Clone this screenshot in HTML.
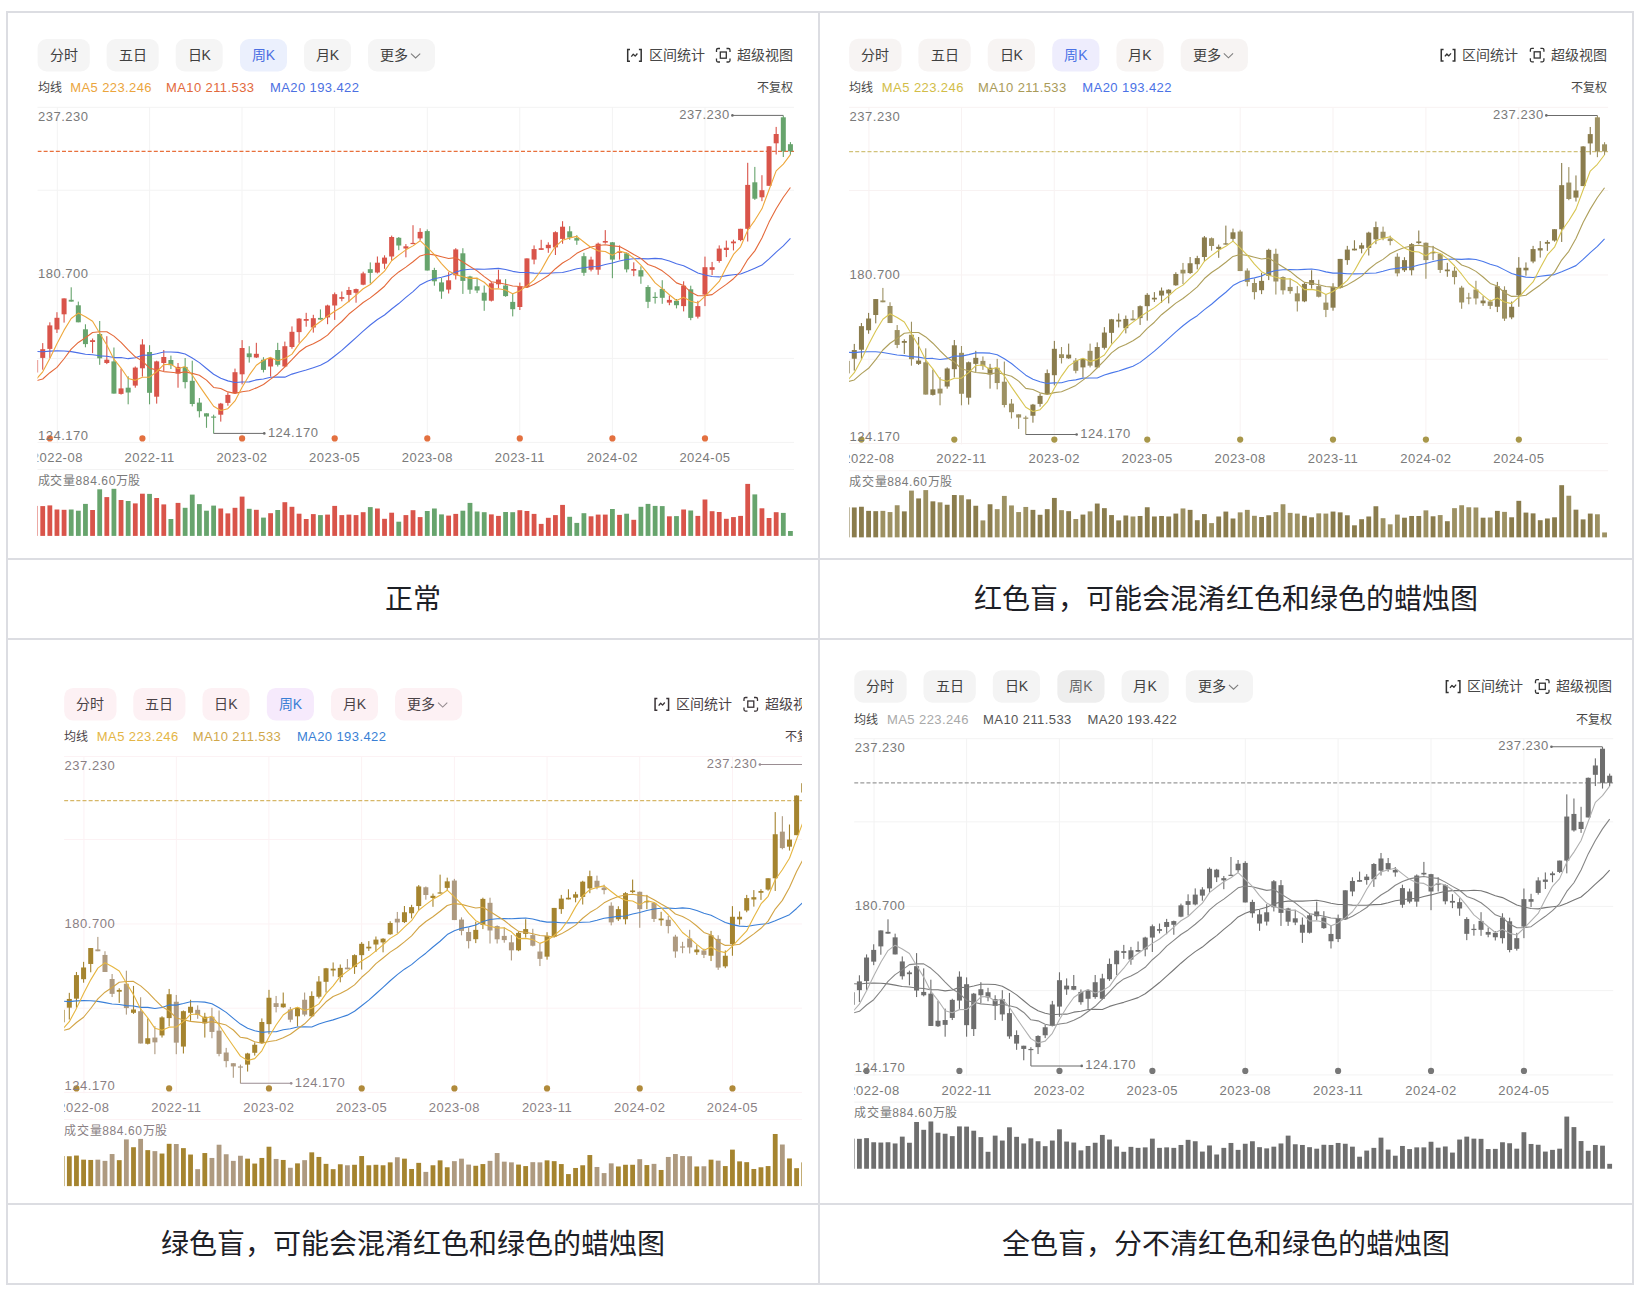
<!DOCTYPE html>
<html lang="zh-CN"><head><meta charset="utf-8"><style>
html,body{margin:0;padding:0;background:#fff;}
body{width:1640px;height:1300px;overflow:hidden;position:relative;font-family:"Liberation Sans",sans-serif;}
svg{position:absolute;left:0;top:0;}
text{font-family:"Liberation Sans",sans-serif;}
.bt{font-size:14px;}
.sm{font-size:12px;}
.ma{font-size:13px;letter-spacing:0.4px;}
.ax{font-size:13px;letter-spacing:0.5px;}
.vl{font-size:12px;letter-spacing:0.6px;}
.cap{font-size:28px;fill:#1d2026;}
</style></head><body>
<svg width="1640" height="1300" viewBox="0 0 1640 1300">
<rect x="7" y="12" width="1626" height="1272" fill="none" stroke="#dcdde2" stroke-width="2"/>
<rect x="818" y="12" width="2" height="1272" fill="#dcdde2"/>
<rect x="7" y="558" width="1626" height="2" fill="#dcdde2"/>
<rect x="7" y="638" width="1626" height="2" fill="#dcdde2"/>
<rect x="7" y="1203" width="1626" height="2" fill="#dcdde2"/>
<clipPath id="cell1"><rect x="8" y="13" width="810" height="545"/></clipPath>
<clipPath id="cell2"><rect x="820" y="13" width="812" height="545"/></clipPath>
<clipPath id="cell3"><rect x="8" y="640" width="794" height="563"/></clipPath>
<clipPath id="cell4"><rect x="820" y="640" width="812" height="563"/></clipPath>
<g clip-path="url(#cell1)"><rect x="37.6" y="39" width="52.2" height="32.5" rx="9" fill="#f5f5f5"/>
<text x="63.7" y="60.2" class="bt" text-anchor="middle" fill="#404040">分时</text>
<rect x="106.6" y="39" width="52.1" height="32.5" rx="9" fill="#f5f5f5"/>
<text x="132.7" y="60.2" class="bt" text-anchor="middle" fill="#404040">五日</text>
<rect x="175.7" y="39" width="47.0" height="32.5" rx="9" fill="#f5f5f5"/>
<text x="199.2" y="60.2" class="bt" text-anchor="middle" fill="#404040">日K</text>
<rect x="240.0" y="39" width="47.0" height="32.5" rx="9" fill="#ebf0fd"/>
<text x="263.5" y="60.2" class="bt" text-anchor="middle" fill="#4b6fe2">周K</text>
<rect x="304.0" y="39" width="47.0" height="32.5" rx="9" fill="#f5f5f5"/>
<text x="327.5" y="60.2" class="bt" text-anchor="middle" fill="#404040">月K</text>
<rect x="368.0" y="39" width="67.0" height="32.5" rx="9" fill="#f5f5f5"/>
<text x="380.0" y="60.2" class="bt" fill="#404040">更多</text>
<path d="M411.0,53.6 l4.6,4.4 l4.6,-4.4" fill="none" stroke="#7c7c7c" stroke-width="1.05"/>
<path d="M630,49.6 h-2.3 v11.6 h2.3 M638.9,49.6 h2.3 v11.6 h-2.3" fill="none" stroke="#333" stroke-width="1.5"/>
<path d="M631.3,56.6 l2,-2.4 l1.9,1.9 l2.2,-2.6" fill="none" stroke="#333" stroke-width="1.3" stroke-linejoin="round"/>
<text x="704.5" y="60.2" class="bt" text-anchor="end" fill="#474747">区间统计</text>
<path d="M716.5,52 v-2 q0,-1.5 1.5,-1.5 h2 M726.5,48.5 h2 q1.5,0 1.5,1.5 v2 M730,58.5 v2 q0,1.5 -1.5,1.5 h-2 M720,62 h-2 q-1.5,0 -1.5,-1.5 v-2" fill="none" stroke="#333" stroke-width="1.3"/>
<rect x="720.3" y="52" width="6" height="6.2" fill="none" stroke="#333" stroke-width="1.3"/>
<text x="793" y="60.2" class="bt" text-anchor="end" fill="#474747">超级视图</text>
<text x="37.6" y="92.3" class="sm" fill="#474747">均线</text>
<text x="70.2" y="92.3" class="ma" fill="#eba53c">MA5 223.246</text>
<text x="166" y="92.3" class="ma" fill="#e2693b">MA10 211.533</text>
<text x="270" y="92.3" class="ma" fill="#4b6fe2">MA20 193.422</text>
<text x="793" y="92.3" class="sm" text-anchor="end" fill="#474747">不复权</text>
<rect x="37.5" y="106.8" width="756.5" height="1" fill="#f3f3f3"/>
<rect x="37.5" y="189.7" width="756.5" height="1" fill="#f3f3f3"/>
<rect x="37.5" y="273.9" width="756.5" height="1" fill="#f3f3f3"/>
<rect x="37.5" y="357.9" width="756.5" height="1" fill="#f3f3f3"/>
<rect x="37.5" y="441.9" width="756.5" height="1" fill="#f3f3f3"/>
<rect x="37.5" y="469.0" width="756.5" height="1" fill="#f3f3f3"/>
<rect x="56.8" y="107.3" width="1" height="336" fill="#f3f3f3"/>
<rect x="149.1" y="107.3" width="1" height="336" fill="#f3f3f3"/>
<rect x="241.5" y="107.3" width="1" height="336" fill="#f3f3f3"/>
<rect x="334.1" y="107.3" width="1" height="336" fill="#f3f3f3"/>
<rect x="426.8" y="107.3" width="1" height="336" fill="#f3f3f3"/>
<rect x="519.3" y="107.3" width="1" height="336" fill="#f3f3f3"/>
<rect x="611.9" y="107.3" width="1" height="336" fill="#f3f3f3"/>
<rect x="704.5" y="107.3" width="1" height="336" fill="#f3f3f3"/>
<text x="38" y="120.6" class="ax" fill="#7a7a7a">237.230</text>
<text x="38" y="278" class="ax" fill="#7a7a7a">180.700</text>
<clipPath id="cpa"><rect x="37.5" y="100" width="756.5" height="440"/></clipPath>
<g clip-path="url(#cpa)">
<circle cx="49.8" cy="438.4" r="3.1" fill="#e3703f"/>
<circle cx="142.4" cy="438.4" r="3.1" fill="#e3703f"/>
<circle cx="242.1" cy="438.4" r="3.1" fill="#e3703f"/>
<circle cx="334.7" cy="438.4" r="3.1" fill="#e3703f"/>
<circle cx="427.3" cy="438.4" r="3.1" fill="#e3703f"/>
<circle cx="519.8" cy="438.4" r="3.1" fill="#e3703f"/>
<circle cx="612.4" cy="438.4" r="3.1" fill="#e3703f"/>
<circle cx="705.0" cy="438.4" r="3.1" fill="#e3703f"/>
<text x="38" y="439.6" class="ax" fill="#7a7a7a">124.170</text>
<line x1="37.5" y1="151.4" x2="794" y2="151.4" stroke="#e8703c" stroke-width="1.2" stroke-dasharray="4,2.12"/>
<text x="57.3" y="462" class="ax" text-anchor="middle" fill="#7a7a7a">2022-08</text>
<text x="149.6" y="462" class="ax" text-anchor="middle" fill="#7a7a7a">2022-11</text>
<text x="242.0" y="462" class="ax" text-anchor="middle" fill="#7a7a7a">2023-02</text>
<text x="334.6" y="462" class="ax" text-anchor="middle" fill="#7a7a7a">2023-05</text>
<text x="427.3" y="462" class="ax" text-anchor="middle" fill="#7a7a7a">2023-08</text>
<text x="519.8" y="462" class="ax" text-anchor="middle" fill="#7a7a7a">2023-11</text>
<text x="612.4" y="462" class="ax" text-anchor="middle" fill="#7a7a7a">2024-02</text>
<text x="705.0" y="462" class="ax" text-anchor="middle" fill="#7a7a7a">2024-05</text>
<rect x="35.05" y="358.00" width="1.1" height="16.00" fill="#d9544a"/>
<rect x="33.10" y="360.00" width="5" height="12.50" fill="#d9544a"/>
<rect x="42.17" y="343.10" width="1.1" height="26.60" fill="#d9544a"/>
<rect x="40.22" y="349.20" width="5" height="8.70" fill="#d9544a"/>
<rect x="49.29" y="322.30" width="1.1" height="35.60" fill="#d9544a"/>
<rect x="47.34" y="325.40" width="5" height="23.50" fill="#d9544a"/>
<rect x="56.41" y="312.20" width="1.1" height="20.80" fill="#d9544a"/>
<rect x="54.46" y="317.80" width="5" height="11.70" fill="#d9544a"/>
<rect x="63.53" y="298.40" width="1.1" height="24.20" fill="#d9544a"/>
<rect x="61.58" y="298.40" width="5" height="15.90" fill="#d9544a"/>
<rect x="70.66" y="287.30" width="1.1" height="14.30" fill="#67a46d"/>
<rect x="68.71" y="299.80" width="5" height="1.80" fill="#67a46d"/>
<rect x="77.78" y="301.60" width="1.1" height="20.70" fill="#67a46d"/>
<rect x="75.83" y="305.30" width="5" height="17.00" fill="#67a46d"/>
<rect x="84.90" y="324.30" width="1.1" height="23.00" fill="#67a46d"/>
<rect x="82.95" y="329.30" width="5" height="14.80" fill="#67a46d"/>
<rect x="92.02" y="338.50" width="1.1" height="14.60" fill="#d9544a"/>
<rect x="90.07" y="340.20" width="5" height="1.80" fill="#d9544a"/>
<rect x="99.14" y="321.00" width="1.1" height="43.80" fill="#67a46d"/>
<rect x="97.19" y="334.00" width="5" height="24.30" fill="#67a46d"/>
<rect x="106.26" y="336.20" width="1.1" height="27.90" fill="#d9544a"/>
<rect x="104.31" y="359.70" width="5" height="3.30" fill="#d9544a"/>
<rect x="113.38" y="347.50" width="1.1" height="46.10" fill="#67a46d"/>
<rect x="111.43" y="361.40" width="5" height="32.20" fill="#67a46d"/>
<rect x="120.50" y="368.60" width="1.1" height="26.00" fill="#d9544a"/>
<rect x="118.55" y="388.40" width="5" height="5.50" fill="#d9544a"/>
<rect x="127.62" y="376.30" width="1.1" height="28.00" fill="#67a46d"/>
<rect x="125.67" y="387.70" width="5" height="4.80" fill="#67a46d"/>
<rect x="134.74" y="366.50" width="1.1" height="21.20" fill="#d9544a"/>
<rect x="132.79" y="367.60" width="5" height="18.00" fill="#d9544a"/>
<rect x="141.87" y="339.20" width="1.1" height="37.40" fill="#d9544a"/>
<rect x="139.92" y="344.50" width="5" height="23.80" fill="#d9544a"/>
<rect x="148.99" y="345.20" width="1.1" height="59.10" fill="#67a46d"/>
<rect x="147.04" y="352.00" width="5" height="40.80" fill="#67a46d"/>
<rect x="156.11" y="360.70" width="1.1" height="42.90" fill="#d9544a"/>
<rect x="154.16" y="361.40" width="5" height="35.30" fill="#d9544a"/>
<rect x="163.23" y="350.00" width="1.1" height="21.00" fill="#d9544a"/>
<rect x="161.28" y="357.00" width="5" height="6.00" fill="#d9544a"/>
<rect x="170.35" y="355.60" width="1.1" height="13.40" fill="#67a46d"/>
<rect x="168.40" y="360.00" width="5" height="5.20" fill="#67a46d"/>
<rect x="177.47" y="363.00" width="1.1" height="24.70" fill="#d9544a"/>
<rect x="175.52" y="366.90" width="5" height="6.70" fill="#d9544a"/>
<rect x="184.59" y="358.00" width="1.1" height="30.40" fill="#67a46d"/>
<rect x="182.64" y="366.90" width="5" height="15.20" fill="#67a46d"/>
<rect x="191.71" y="360.70" width="1.1" height="45.70" fill="#67a46d"/>
<rect x="189.76" y="380.80" width="5" height="23.20" fill="#67a46d"/>
<rect x="198.83" y="398.00" width="1.1" height="19.40" fill="#67a46d"/>
<rect x="196.88" y="402.60" width="5" height="8.60" fill="#67a46d"/>
<rect x="205.95" y="413.30" width="1.1" height="14.50" fill="#67a46d"/>
<rect x="204.00" y="413.30" width="5" height="3.20" fill="#67a46d"/>
<rect x="213.07" y="414.70" width="1.1" height="18.70" fill="#67a46d"/>
<rect x="211.12" y="416.50" width="5" height="1.20" fill="#67a46d"/>
<rect x="220.20" y="402.90" width="1.1" height="18.70" fill="#d9544a"/>
<rect x="218.25" y="403.60" width="5" height="11.10" fill="#d9544a"/>
<rect x="227.32" y="392.50" width="1.1" height="13.20" fill="#d9544a"/>
<rect x="225.37" y="394.90" width="5" height="8.00" fill="#d9544a"/>
<rect x="234.44" y="368.60" width="1.1" height="25.30" fill="#d9544a"/>
<rect x="232.49" y="372.20" width="5" height="21.00" fill="#d9544a"/>
<rect x="241.56" y="340.10" width="1.1" height="44.30" fill="#d9544a"/>
<rect x="239.61" y="348.00" width="5" height="26.30" fill="#d9544a"/>
<rect x="248.68" y="346.20" width="1.1" height="16.40" fill="#67a46d"/>
<rect x="246.73" y="353.40" width="5" height="3.80" fill="#67a46d"/>
<rect x="255.80" y="342.80" width="1.1" height="15.20" fill="#d9544a"/>
<rect x="253.85" y="353.80" width="5" height="3.70" fill="#d9544a"/>
<rect x="262.92" y="357.20" width="1.1" height="15.20" fill="#67a46d"/>
<rect x="260.97" y="359.70" width="5" height="10.20" fill="#67a46d"/>
<rect x="270.04" y="357.20" width="1.1" height="19.40" fill="#d9544a"/>
<rect x="268.09" y="358.00" width="5" height="8.50" fill="#d9544a"/>
<rect x="277.16" y="342.80" width="1.1" height="23.70" fill="#67a46d"/>
<rect x="275.21" y="350.00" width="5" height="14.80" fill="#67a46d"/>
<rect x="284.29" y="341.60" width="1.1" height="25.70" fill="#d9544a"/>
<rect x="282.34" y="346.20" width="5" height="20.30" fill="#d9544a"/>
<rect x="291.41" y="326.40" width="1.1" height="22.30" fill="#d9544a"/>
<rect x="289.46" y="331.80" width="5" height="15.20" fill="#d9544a"/>
<rect x="298.53" y="318.20" width="1.1" height="24.60" fill="#d9544a"/>
<rect x="296.58" y="318.60" width="5" height="13.50" fill="#d9544a"/>
<rect x="305.65" y="312.80" width="1.1" height="13.90" fill="#d9544a"/>
<rect x="303.70" y="319.00" width="5" height="1.80" fill="#d9544a"/>
<rect x="312.77" y="314.80" width="1.1" height="17.80" fill="#d9544a"/>
<rect x="310.82" y="318.20" width="5" height="9.30" fill="#d9544a"/>
<rect x="319.89" y="309.40" width="1.1" height="10.20" fill="#67a46d"/>
<rect x="317.94" y="317.90" width="5" height="1.70" fill="#67a46d"/>
<rect x="327.01" y="304.70" width="1.1" height="19.50" fill="#d9544a"/>
<rect x="325.06" y="305.50" width="5" height="11.90" fill="#d9544a"/>
<rect x="334.13" y="292.50" width="1.1" height="27.40" fill="#d9544a"/>
<rect x="332.18" y="294.20" width="5" height="11.30" fill="#d9544a"/>
<rect x="341.25" y="291.50" width="1.1" height="9.80" fill="#d9544a"/>
<rect x="339.30" y="297.10" width="5" height="1.70" fill="#d9544a"/>
<rect x="348.37" y="286.90" width="1.1" height="15.30" fill="#d9544a"/>
<rect x="346.42" y="290.00" width="5" height="4.90" fill="#d9544a"/>
<rect x="355.50" y="288.60" width="1.1" height="14.10" fill="#d9544a"/>
<rect x="353.55" y="289.10" width="5" height="3.70" fill="#d9544a"/>
<rect x="362.62" y="271.70" width="1.1" height="13.50" fill="#d9544a"/>
<rect x="360.67" y="273.40" width="5" height="11.30" fill="#d9544a"/>
<rect x="369.74" y="262.40" width="1.1" height="21.10" fill="#67a46d"/>
<rect x="367.79" y="269.20" width="5" height="3.70" fill="#67a46d"/>
<rect x="376.86" y="256.50" width="1.1" height="16.90" fill="#d9544a"/>
<rect x="374.91" y="262.70" width="5" height="9.80" fill="#d9544a"/>
<rect x="383.98" y="255.30" width="1.1" height="13.50" fill="#d9544a"/>
<rect x="382.03" y="257.60" width="5" height="6.10" fill="#d9544a"/>
<rect x="391.10" y="235.60" width="1.1" height="25.10" fill="#d9544a"/>
<rect x="389.15" y="237.00" width="5" height="19.50" fill="#d9544a"/>
<rect x="398.22" y="237.00" width="1.1" height="13.20" fill="#67a46d"/>
<rect x="396.27" y="237.80" width="5" height="7.70" fill="#67a46d"/>
<rect x="405.34" y="244.10" width="1.1" height="13.20" fill="#d9544a"/>
<rect x="403.39" y="246.30" width="5" height="2.20" fill="#d9544a"/>
<rect x="412.46" y="225.20" width="1.1" height="18.90" fill="#d9544a"/>
<rect x="410.51" y="242.90" width="5" height="1.20" fill="#d9544a"/>
<rect x="419.58" y="228.20" width="1.1" height="12.20" fill="#d9544a"/>
<rect x="417.63" y="231.90" width="5" height="6.50" fill="#d9544a"/>
<rect x="426.71" y="229.40" width="1.1" height="41.10" fill="#67a46d"/>
<rect x="424.76" y="231.10" width="5" height="39.40" fill="#67a46d"/>
<rect x="433.83" y="267.80" width="1.1" height="17.90" fill="#67a46d"/>
<rect x="431.88" y="270.00" width="5" height="11.30" fill="#67a46d"/>
<rect x="440.95" y="278.00" width="1.1" height="20.80" fill="#67a46d"/>
<rect x="439.00" y="282.40" width="5" height="9.10" fill="#67a46d"/>
<rect x="448.07" y="272.20" width="1.1" height="21.30" fill="#d9544a"/>
<rect x="446.12" y="280.30" width="5" height="9.30" fill="#d9544a"/>
<rect x="455.19" y="248.20" width="1.1" height="31.30" fill="#d9544a"/>
<rect x="453.24" y="249.40" width="5" height="25.90" fill="#d9544a"/>
<rect x="462.31" y="248.20" width="1.1" height="45.70" fill="#67a46d"/>
<rect x="460.36" y="253.30" width="5" height="27.60" fill="#67a46d"/>
<rect x="469.43" y="275.80" width="1.1" height="18.10" fill="#67a46d"/>
<rect x="467.48" y="276.50" width="5" height="13.20" fill="#67a46d"/>
<rect x="476.55" y="277.80" width="1.1" height="15.30" fill="#67a46d"/>
<rect x="474.60" y="286.30" width="5" height="4.20" fill="#67a46d"/>
<rect x="483.67" y="285.50" width="1.1" height="25.30" fill="#67a46d"/>
<rect x="481.72" y="292.70" width="5" height="8.00" fill="#67a46d"/>
<rect x="490.79" y="282.10" width="1.1" height="19.40" fill="#d9544a"/>
<rect x="488.84" y="283.30" width="5" height="17.40" fill="#d9544a"/>
<rect x="497.92" y="269.70" width="1.1" height="18.30" fill="#d9544a"/>
<rect x="495.97" y="279.50" width="5" height="4.80" fill="#d9544a"/>
<rect x="505.04" y="279.20" width="1.1" height="17.60" fill="#67a46d"/>
<rect x="503.09" y="285.50" width="5" height="10.60" fill="#67a46d"/>
<rect x="512.16" y="293.90" width="1.1" height="22.50" fill="#67a46d"/>
<rect x="510.21" y="301.90" width="5" height="7.30" fill="#67a46d"/>
<rect x="519.28" y="282.60" width="1.1" height="27.40" fill="#d9544a"/>
<rect x="517.33" y="286.30" width="5" height="20.70" fill="#d9544a"/>
<rect x="526.40" y="258.40" width="1.1" height="29.30" fill="#d9544a"/>
<rect x="524.45" y="258.40" width="5" height="28.80" fill="#d9544a"/>
<rect x="533.52" y="245.40" width="1.1" height="18.90" fill="#d9544a"/>
<rect x="531.57" y="249.10" width="5" height="10.50" fill="#d9544a"/>
<rect x="540.64" y="239.80" width="1.1" height="10.10" fill="#d9544a"/>
<rect x="538.69" y="248.20" width="5" height="1.70" fill="#d9544a"/>
<rect x="547.76" y="242.30" width="1.1" height="10.50" fill="#d9544a"/>
<rect x="545.81" y="244.80" width="5" height="3.40" fill="#d9544a"/>
<rect x="554.88" y="231.30" width="1.1" height="23.70" fill="#d9544a"/>
<rect x="552.93" y="232.20" width="5" height="15.20" fill="#d9544a"/>
<rect x="562.00" y="221.20" width="1.1" height="22.50" fill="#d9544a"/>
<rect x="560.05" y="226.70" width="5" height="12.20" fill="#d9544a"/>
<rect x="569.13" y="226.20" width="1.1" height="13.60" fill="#67a46d"/>
<rect x="567.18" y="231.30" width="5" height="6.30" fill="#67a46d"/>
<rect x="576.25" y="235.20" width="1.1" height="9.60" fill="#67a46d"/>
<rect x="574.30" y="238.10" width="5" height="2.50" fill="#67a46d"/>
<rect x="583.37" y="252.80" width="1.1" height="23.00" fill="#67a46d"/>
<rect x="581.42" y="256.20" width="5" height="16.60" fill="#67a46d"/>
<rect x="590.49" y="256.70" width="1.1" height="14.70" fill="#d9544a"/>
<rect x="588.54" y="259.60" width="5" height="10.10" fill="#d9544a"/>
<rect x="597.61" y="242.60" width="1.1" height="32.20" fill="#d9544a"/>
<rect x="595.66" y="243.70" width="5" height="26.00" fill="#d9544a"/>
<rect x="604.73" y="230.10" width="1.1" height="13.60" fill="#d9544a"/>
<rect x="602.78" y="241.00" width="5" height="1.60" fill="#d9544a"/>
<rect x="611.85" y="242.00" width="1.1" height="36.20" fill="#67a46d"/>
<rect x="609.90" y="242.30" width="5" height="17.30" fill="#67a46d"/>
<rect x="618.97" y="245.40" width="1.1" height="14.20" fill="#d9544a"/>
<rect x="617.02" y="251.60" width="5" height="1.20" fill="#d9544a"/>
<rect x="626.09" y="252.50" width="1.1" height="19.90" fill="#67a46d"/>
<rect x="624.14" y="253.30" width="5" height="16.10" fill="#67a46d"/>
<rect x="633.21" y="262.30" width="1.1" height="13.90" fill="#d9544a"/>
<rect x="631.26" y="269.00" width="5" height="1.70" fill="#d9544a"/>
<rect x="640.34" y="266.30" width="1.1" height="17.50" fill="#67a46d"/>
<rect x="638.39" y="270.20" width="5" height="6.30" fill="#67a46d"/>
<rect x="647.46" y="285.20" width="1.1" height="22.90" fill="#67a46d"/>
<rect x="645.51" y="287.00" width="5" height="14.80" fill="#67a46d"/>
<rect x="654.58" y="292.20" width="1.1" height="11.40" fill="#67a46d"/>
<rect x="652.63" y="296.80" width="5" height="1.20" fill="#67a46d"/>
<rect x="661.70" y="280.20" width="1.1" height="23.60" fill="#67a46d"/>
<rect x="659.75" y="288.90" width="5" height="8.90" fill="#67a46d"/>
<rect x="668.82" y="295.50" width="1.1" height="9.70" fill="#d9544a"/>
<rect x="666.87" y="299.90" width="5" height="2.70" fill="#d9544a"/>
<rect x="675.94" y="299.00" width="1.1" height="9.40" fill="#67a46d"/>
<rect x="673.99" y="300.80" width="5" height="4.40" fill="#67a46d"/>
<rect x="683.06" y="281.30" width="1.1" height="30.10" fill="#d9544a"/>
<rect x="681.11" y="285.70" width="5" height="20.40" fill="#d9544a"/>
<rect x="690.18" y="285.70" width="1.1" height="34.50" fill="#67a46d"/>
<rect x="688.23" y="289.30" width="5" height="28.60" fill="#67a46d"/>
<rect x="697.30" y="300.80" width="1.1" height="17.70" fill="#d9544a"/>
<rect x="695.35" y="306.10" width="5" height="10.60" fill="#d9544a"/>
<rect x="704.42" y="256.60" width="1.1" height="49.50" fill="#d9544a"/>
<rect x="702.47" y="267.20" width="5" height="27.40" fill="#d9544a"/>
<rect x="711.55" y="261.90" width="1.1" height="13.20" fill="#d9544a"/>
<rect x="709.60" y="267.20" width="5" height="2.60" fill="#d9544a"/>
<rect x="718.67" y="245.40" width="1.1" height="17.30" fill="#d9544a"/>
<rect x="716.72" y="248.60" width="5" height="12.40" fill="#d9544a"/>
<rect x="725.79" y="240.60" width="1.1" height="16.50" fill="#d9544a"/>
<rect x="723.84" y="247.70" width="5" height="2.30" fill="#d9544a"/>
<rect x="732.91" y="239.70" width="1.1" height="10.70" fill="#d9544a"/>
<rect x="730.96" y="241.50" width="5" height="1.80" fill="#d9544a"/>
<rect x="740.03" y="228.80" width="1.1" height="12.40" fill="#d9544a"/>
<rect x="738.08" y="228.80" width="5" height="11.30" fill="#d9544a"/>
<rect x="747.15" y="162.80" width="1.1" height="78.70" fill="#d9544a"/>
<rect x="745.20" y="184.90" width="5" height="43.90" fill="#d9544a"/>
<rect x="754.27" y="166.90" width="1.1" height="33.00" fill="#67a46d"/>
<rect x="752.32" y="182.30" width="5" height="16.40" fill="#67a46d"/>
<rect x="761.39" y="175.20" width="1.1" height="26.00" fill="#d9544a"/>
<rect x="759.44" y="190.20" width="5" height="7.10" fill="#d9544a"/>
<rect x="768.51" y="146.00" width="1.1" height="39.80" fill="#d9544a"/>
<rect x="766.56" y="146.30" width="5" height="39.50" fill="#d9544a"/>
<rect x="775.63" y="126.90" width="1.1" height="27.60" fill="#d9544a"/>
<rect x="773.68" y="134.00" width="5" height="9.30" fill="#d9544a"/>
<rect x="782.76" y="115.50" width="1.1" height="41.50" fill="#67a46d"/>
<rect x="780.81" y="117.30" width="5" height="34.00" fill="#67a46d"/>
<rect x="789.88" y="142.10" width="1.1" height="12.70" fill="#67a46d"/>
<rect x="787.93" y="144.20" width="5" height="7.10" fill="#67a46d"/>
<polyline points="35.60,351.40 42.72,351.82 49.84,351.08 56.96,350.90 64.08,350.99 71.21,351.64 78.33,352.90 85.45,354.23 92.57,354.79 99.69,355.83 106.81,356.29 113.93,357.58 121.05,357.57 128.17,358.67 135.29,357.79 142.42,355.15 149.54,355.32 156.66,353.81 163.78,352.05 170.90,352.00 178.02,352.34 185.14,353.99 192.26,357.92 199.38,362.59 206.50,368.50 213.62,374.28 220.75,378.35 227.87,380.89 234.99,382.49 242.11,381.98 249.23,381.85 256.35,379.86 263.47,378.93 270.59,377.21 277.71,377.07 284.84,377.15 291.96,374.11 299.08,371.97 306.20,370.07 313.32,367.72 320.44,365.35 327.56,361.52 334.68,356.03 341.80,350.33 348.92,344.00 356.05,337.58 363.17,331.07 370.29,324.98 377.41,319.50 384.53,314.98 391.65,308.97 398.77,303.56 405.89,297.38 413.01,291.62 420.13,284.97 427.26,281.19 434.38,278.67 441.50,277.31 448.62,275.38 455.74,271.94 462.86,270.00 469.98,269.21 477.10,269.02 484.22,269.20 491.34,268.87 498.47,268.39 505.59,269.52 512.71,271.34 519.83,272.52 526.95,272.56 534.07,273.17 541.19,273.30 548.31,273.23 555.43,272.69 562.55,272.43 569.68,270.78 576.80,268.75 583.92,267.82 591.04,266.78 598.16,266.50 605.28,264.50 612.40,263.00 619.52,261.05 626.64,259.49 633.76,258.77 640.89,258.62 648.01,258.90 655.13,258.34 662.25,258.91 669.37,260.99 676.49,263.79 683.61,265.67 690.73,269.32 697.85,273.01 704.97,275.04 712.10,276.52 719.22,276.92 726.34,275.66 733.46,274.76 740.58,274.01 747.70,271.21 754.82,268.16 761.94,265.09 769.06,258.94 776.18,252.19 783.31,245.93 790.43,238.41" fill="none" stroke="#4b6fe8" stroke-width="1.1" stroke-linejoin="round"/>
<polyline points="35.60,380.88 42.72,379.02 49.84,372.70 56.96,367.43 64.08,358.74 71.21,349.18 78.33,342.47 85.45,337.73 92.57,332.52 99.69,331.73 106.81,331.70 113.93,336.14 121.05,342.44 128.17,349.91 135.29,356.83 142.42,361.12 149.54,368.17 156.66,369.90 163.78,371.58 170.90,372.27 178.02,372.99 185.14,371.84 192.26,373.40 199.38,375.27 206.50,380.16 213.62,387.45 220.75,388.53 227.87,391.88 234.99,393.40 242.11,391.68 249.23,390.71 256.35,387.88 263.47,384.47 270.59,379.15 277.71,373.98 284.84,366.86 291.96,359.68 299.08,352.05 306.20,346.73 313.32,343.75 320.44,339.99 327.56,335.16 334.68,327.59 341.80,321.50 348.92,314.02 356.05,308.31 363.17,302.47 370.29,297.90 377.41,292.27 384.53,286.21 391.65,277.95 398.77,271.95 405.89,267.16 413.01,261.74 420.13,255.93 427.26,254.07 434.38,254.86 441.50,256.72 448.62,258.48 455.74,257.66 462.86,262.05 469.98,266.47 477.10,270.89 484.22,276.67 491.34,281.81 498.47,282.71 505.59,284.19 512.71,285.96 519.83,286.56 526.95,287.46 534.07,284.28 541.19,280.13 548.31,275.56 555.43,268.71 562.55,263.05 569.68,258.86 576.80,253.31 583.92,249.67 591.04,247.00 598.16,245.53 605.28,244.72 612.40,245.86 619.52,246.54 626.64,250.26 633.76,254.49 640.89,258.38 648.01,264.50 655.13,267.00 662.25,270.82 669.37,276.44 676.49,282.86 683.61,285.47 690.73,292.10 697.85,295.77 704.97,295.59 712.10,294.66 719.22,289.34 726.34,284.33 733.46,278.70 740.58,271.59 747.70,259.56 754.82,250.86 761.94,238.09 769.06,222.11 776.18,208.79 783.31,197.20 790.43,187.47" fill="none" stroke="#e4693a" stroke-width="1.1" stroke-linejoin="round"/>
<polyline points="35.60,379.88 42.72,371.84 49.84,358.61 56.96,343.72 64.08,330.16 71.21,318.48 78.33,313.10 85.45,316.84 92.57,321.32 99.69,333.30 106.81,344.92 113.93,359.18 121.05,368.04 128.17,378.50 135.29,380.36 142.42,377.32 149.54,377.16 156.66,371.76 163.78,364.66 170.90,364.18 178.02,368.66 185.14,366.52 192.26,375.04 199.38,385.88 206.50,396.14 213.62,406.24 220.75,410.54 227.87,408.72 234.99,400.92 242.11,387.22 249.23,375.18 256.35,365.22 263.47,360.22 270.59,357.38 277.71,360.74 284.84,358.54 291.96,354.14 299.08,343.88 306.20,336.08 313.32,326.76 320.44,321.44 327.56,316.18 334.68,311.30 341.80,306.92 348.92,301.28 356.05,295.18 363.17,288.76 370.29,284.50 377.41,277.62 384.53,271.14 391.65,260.72 398.77,255.14 405.89,249.82 413.01,245.86 420.13,240.72 427.26,247.42 434.38,254.58 441.50,263.62 448.62,271.10 455.74,274.60 462.86,276.68 469.98,278.36 477.10,278.16 484.22,282.24 491.34,289.02 498.47,288.74 505.59,290.02 512.71,293.76 519.83,290.88 526.95,285.90 534.07,279.82 541.19,270.24 548.31,257.36 555.43,246.54 562.55,240.20 569.68,237.90 576.80,236.38 583.92,241.98 591.04,247.46 598.16,250.86 605.28,251.54 612.40,255.34 619.52,251.10 626.64,253.06 633.76,258.12 640.89,265.22 648.01,273.66 655.13,282.90 662.25,288.58 669.37,294.76 676.49,300.50 683.61,297.28 690.73,301.30 697.85,302.96 704.97,296.42 712.10,288.82 719.22,281.40 726.34,267.36 733.46,254.44 740.58,246.76 747.70,230.30 754.82,220.32 761.94,208.82 769.06,189.78 776.18,170.82 783.31,164.10 790.43,154.62" fill="none" stroke="#eea83c" stroke-width="1.1" stroke-linejoin="round"/>
<text x="37.8" y="484.8" class="vl" fill="#7a7a7a">成交量884.60万股</text>
<rect x="33.20" y="505.90" width="4.8" height="30.00" fill="#d9544a"/>
<rect x="40.32" y="506.10" width="4.8" height="29.80" fill="#d9544a"/>
<rect x="47.44" y="505.40" width="4.8" height="30.50" fill="#d9544a"/>
<rect x="54.56" y="509.50" width="4.8" height="26.40" fill="#d9544a"/>
<rect x="61.68" y="509.80" width="4.8" height="26.10" fill="#d9544a"/>
<rect x="68.81" y="509.50" width="4.8" height="26.40" fill="#67a46d"/>
<rect x="75.93" y="510.70" width="4.8" height="25.20" fill="#67a46d"/>
<rect x="83.05" y="503.90" width="4.8" height="32.00" fill="#67a46d"/>
<rect x="90.17" y="510.00" width="4.8" height="25.90" fill="#d9544a"/>
<rect x="97.29" y="489.30" width="4.8" height="46.60" fill="#67a46d"/>
<rect x="104.41" y="497.10" width="4.8" height="38.80" fill="#d9544a"/>
<rect x="111.53" y="488.80" width="4.8" height="47.10" fill="#67a46d"/>
<rect x="118.65" y="500.00" width="4.8" height="35.90" fill="#d9544a"/>
<rect x="125.77" y="501.00" width="4.8" height="34.90" fill="#67a46d"/>
<rect x="132.89" y="503.40" width="4.8" height="32.50" fill="#d9544a"/>
<rect x="140.02" y="493.70" width="4.8" height="42.20" fill="#d9544a"/>
<rect x="147.14" y="493.90" width="4.8" height="42.00" fill="#67a46d"/>
<rect x="154.26" y="498.00" width="4.8" height="37.90" fill="#d9544a"/>
<rect x="161.38" y="504.40" width="4.8" height="31.50" fill="#d9544a"/>
<rect x="168.50" y="519.00" width="4.8" height="16.90" fill="#67a46d"/>
<rect x="175.62" y="502.90" width="4.8" height="33.00" fill="#d9544a"/>
<rect x="182.74" y="507.80" width="4.8" height="28.10" fill="#67a46d"/>
<rect x="189.86" y="494.60" width="4.8" height="41.30" fill="#67a46d"/>
<rect x="196.98" y="504.10" width="4.8" height="31.80" fill="#67a46d"/>
<rect x="204.10" y="510.70" width="4.8" height="25.20" fill="#67a46d"/>
<rect x="211.22" y="505.60" width="4.8" height="30.30" fill="#67a46d"/>
<rect x="218.35" y="508.50" width="4.8" height="27.40" fill="#d9544a"/>
<rect x="225.47" y="513.40" width="4.8" height="22.50" fill="#d9544a"/>
<rect x="232.59" y="507.80" width="4.8" height="28.10" fill="#d9544a"/>
<rect x="239.71" y="496.60" width="4.8" height="39.30" fill="#d9544a"/>
<rect x="246.83" y="508.80" width="4.8" height="27.10" fill="#67a46d"/>
<rect x="253.95" y="509.80" width="4.8" height="26.10" fill="#d9544a"/>
<rect x="261.07" y="517.60" width="4.8" height="18.30" fill="#67a46d"/>
<rect x="268.19" y="513.20" width="4.8" height="22.70" fill="#d9544a"/>
<rect x="275.31" y="510.00" width="4.8" height="25.90" fill="#67a46d"/>
<rect x="282.44" y="502.20" width="4.8" height="33.70" fill="#d9544a"/>
<rect x="289.56" y="506.80" width="4.8" height="29.10" fill="#d9544a"/>
<rect x="296.68" y="513.70" width="4.8" height="22.20" fill="#d9544a"/>
<rect x="303.80" y="519.00" width="4.8" height="16.90" fill="#d9544a"/>
<rect x="310.92" y="514.10" width="4.8" height="21.80" fill="#d9544a"/>
<rect x="318.04" y="515.10" width="4.8" height="20.80" fill="#67a46d"/>
<rect x="325.16" y="514.60" width="4.8" height="21.30" fill="#d9544a"/>
<rect x="332.28" y="505.90" width="4.8" height="30.00" fill="#d9544a"/>
<rect x="339.40" y="515.10" width="4.8" height="20.80" fill="#d9544a"/>
<rect x="346.52" y="514.60" width="4.8" height="21.30" fill="#d9544a"/>
<rect x="353.65" y="515.10" width="4.8" height="20.80" fill="#d9544a"/>
<rect x="360.77" y="512.20" width="4.8" height="23.70" fill="#d9544a"/>
<rect x="367.89" y="507.10" width="4.8" height="28.80" fill="#67a46d"/>
<rect x="375.01" y="508.50" width="4.8" height="27.40" fill="#d9544a"/>
<rect x="382.13" y="518.80" width="4.8" height="17.10" fill="#d9544a"/>
<rect x="389.25" y="512.70" width="4.8" height="23.20" fill="#d9544a"/>
<rect x="396.37" y="521.70" width="4.8" height="14.20" fill="#67a46d"/>
<rect x="403.49" y="515.10" width="4.8" height="20.80" fill="#d9544a"/>
<rect x="410.61" y="510.20" width="4.8" height="25.70" fill="#d9544a"/>
<rect x="417.73" y="517.10" width="4.8" height="18.80" fill="#d9544a"/>
<rect x="424.86" y="511.00" width="4.8" height="24.90" fill="#67a46d"/>
<rect x="431.98" y="508.50" width="4.8" height="27.40" fill="#67a46d"/>
<rect x="439.10" y="514.40" width="4.8" height="21.50" fill="#67a46d"/>
<rect x="446.22" y="515.60" width="4.8" height="20.30" fill="#d9544a"/>
<rect x="453.34" y="513.90" width="4.8" height="22.00" fill="#d9544a"/>
<rect x="460.46" y="510.70" width="4.8" height="25.20" fill="#67a46d"/>
<rect x="467.58" y="502.90" width="4.8" height="33.00" fill="#67a46d"/>
<rect x="474.70" y="511.50" width="4.8" height="24.40" fill="#67a46d"/>
<rect x="481.82" y="512.20" width="4.8" height="23.70" fill="#67a46d"/>
<rect x="488.94" y="514.40" width="4.8" height="21.50" fill="#d9544a"/>
<rect x="496.07" y="515.90" width="4.8" height="20.00" fill="#d9544a"/>
<rect x="503.19" y="512.00" width="4.8" height="23.90" fill="#67a46d"/>
<rect x="510.31" y="512.20" width="4.8" height="23.70" fill="#67a46d"/>
<rect x="517.43" y="510.20" width="4.8" height="25.70" fill="#d9544a"/>
<rect x="524.55" y="511.00" width="4.8" height="24.90" fill="#d9544a"/>
<rect x="531.67" y="513.90" width="4.8" height="22.00" fill="#d9544a"/>
<rect x="538.79" y="523.90" width="4.8" height="12.00" fill="#d9544a"/>
<rect x="545.91" y="517.80" width="4.8" height="18.10" fill="#d9544a"/>
<rect x="553.03" y="515.10" width="4.8" height="20.80" fill="#d9544a"/>
<rect x="560.15" y="504.90" width="4.8" height="31.00" fill="#d9544a"/>
<rect x="567.28" y="516.80" width="4.8" height="19.10" fill="#67a46d"/>
<rect x="574.40" y="522.90" width="4.8" height="13.00" fill="#67a46d"/>
<rect x="581.52" y="513.20" width="4.8" height="22.70" fill="#67a46d"/>
<rect x="588.64" y="516.30" width="4.8" height="19.60" fill="#d9544a"/>
<rect x="595.76" y="514.60" width="4.8" height="21.30" fill="#d9544a"/>
<rect x="602.88" y="514.60" width="4.8" height="21.30" fill="#d9544a"/>
<rect x="610.00" y="509.00" width="4.8" height="26.90" fill="#67a46d"/>
<rect x="617.12" y="514.90" width="4.8" height="21.00" fill="#d9544a"/>
<rect x="624.24" y="513.70" width="4.8" height="22.20" fill="#67a46d"/>
<rect x="631.36" y="519.80" width="4.8" height="16.10" fill="#d9544a"/>
<rect x="638.49" y="506.80" width="4.8" height="29.10" fill="#67a46d"/>
<rect x="645.61" y="503.90" width="4.8" height="32.00" fill="#67a46d"/>
<rect x="652.73" y="505.90" width="4.8" height="30.00" fill="#67a46d"/>
<rect x="659.85" y="506.10" width="4.8" height="29.80" fill="#67a46d"/>
<rect x="666.97" y="516.30" width="4.8" height="19.60" fill="#d9544a"/>
<rect x="674.09" y="516.10" width="4.8" height="19.80" fill="#67a46d"/>
<rect x="681.21" y="509.50" width="4.8" height="26.40" fill="#d9544a"/>
<rect x="688.33" y="510.50" width="4.8" height="25.40" fill="#67a46d"/>
<rect x="695.45" y="515.90" width="4.8" height="20.00" fill="#d9544a"/>
<rect x="702.57" y="499.50" width="4.8" height="36.40" fill="#d9544a"/>
<rect x="709.70" y="511.20" width="4.8" height="24.70" fill="#d9544a"/>
<rect x="716.82" y="512.00" width="4.8" height="23.90" fill="#d9544a"/>
<rect x="723.94" y="518.80" width="4.8" height="17.10" fill="#d9544a"/>
<rect x="731.06" y="517.10" width="4.8" height="18.80" fill="#d9544a"/>
<rect x="738.18" y="515.90" width="4.8" height="20.00" fill="#d9544a"/>
<rect x="745.30" y="483.90" width="4.8" height="52.00" fill="#d9544a"/>
<rect x="752.42" y="494.40" width="4.8" height="41.50" fill="#67a46d"/>
<rect x="759.54" y="508.30" width="4.8" height="27.60" fill="#d9544a"/>
<rect x="766.66" y="518.00" width="4.8" height="17.90" fill="#d9544a"/>
<rect x="773.78" y="512.20" width="4.8" height="23.70" fill="#d9544a"/>
<rect x="780.91" y="512.90" width="4.8" height="23.00" fill="#67a46d"/>
<rect x="788.03" y="531.00" width="4.8" height="4.90" fill="#67a46d"/>
</g>
<text x="729.8" y="118.6" class="ax" text-anchor="end" fill="#7a7a7a">237.230</text>
<circle cx="732.4" cy="115.4" r="1.3" fill="#6b6b6b"/><line x1="732.4" y1="115.4" x2="783.3" y2="115.4" stroke="#6b6b6b" stroke-width="1"/>
<line x1="213.6" y1="433.4" x2="264.3" y2="433.4" stroke="#6b6b6b" stroke-width="1"/><circle cx="264.3" cy="433.4" r="1.3" fill="#6b6b6b"/>
 <text x="267.9" y="436.7" class="ax" fill="#7a7a7a">124.170</text></g>
<g clip-path="url(#cell2)"><g transform="translate(811.43,-0.365) scale(1.0034)"><rect x="37.6" y="39" width="52.2" height="32.5" rx="9" fill="#f7f4f3"/>
<text x="63.7" y="60.2" class="bt" text-anchor="middle" fill="#404040">分时</text>
<rect x="106.6" y="39" width="52.1" height="32.5" rx="9" fill="#f7f4f3"/>
<text x="132.7" y="60.2" class="bt" text-anchor="middle" fill="#404040">五日</text>
<rect x="175.7" y="39" width="47.0" height="32.5" rx="9" fill="#f7f4f3"/>
<text x="199.2" y="60.2" class="bt" text-anchor="middle" fill="#404040">日K</text>
<rect x="240.0" y="39" width="47.0" height="32.5" rx="9" fill="#eeedfd"/>
<text x="263.5" y="60.2" class="bt" text-anchor="middle" fill="#4a72e6">周K</text>
<rect x="304.0" y="39" width="47.0" height="32.5" rx="9" fill="#f7f4f3"/>
<text x="327.5" y="60.2" class="bt" text-anchor="middle" fill="#404040">月K</text>
<rect x="368.0" y="39" width="67.0" height="32.5" rx="9" fill="#f7f4f3"/>
<text x="380.0" y="60.2" class="bt" fill="#404040">更多</text>
<path d="M411.0,53.6 l4.6,4.4 l4.6,-4.4" fill="none" stroke="#7c7c7c" stroke-width="1.05"/>
<path d="M630,49.6 h-2.3 v11.6 h2.3 M638.9,49.6 h2.3 v11.6 h-2.3" fill="none" stroke="#333" stroke-width="1.5"/>
<path d="M631.3,56.6 l2,-2.4 l1.9,1.9 l2.2,-2.6" fill="none" stroke="#333" stroke-width="1.3" stroke-linejoin="round"/>
<text x="704.5" y="60.2" class="bt" text-anchor="end" fill="#474747">区间统计</text>
<path d="M716.5,52 v-2 q0,-1.5 1.5,-1.5 h2 M726.5,48.5 h2 q1.5,0 1.5,1.5 v2 M730,58.5 v2 q0,1.5 -1.5,1.5 h-2 M720,62 h-2 q-1.5,0 -1.5,-1.5 v-2" fill="none" stroke="#333" stroke-width="1.3"/>
<rect x="720.3" y="52" width="6" height="6.2" fill="none" stroke="#333" stroke-width="1.3"/>
<text x="793" y="60.2" class="bt" text-anchor="end" fill="#474747">超级视图</text>
<text x="37.6" y="92.3" class="sm" fill="#474747">均线</text>
<text x="70.2" y="92.3" class="ma" fill="#d2bd48">MA5 223.246</text>
<text x="166" y="92.3" class="ma" fill="#a99a58">MA10 211.533</text>
<text x="270" y="92.3" class="ma" fill="#4a72e6">MA20 193.422</text>
<text x="793" y="92.3" class="sm" text-anchor="end" fill="#474747">不复权</text>
<rect x="37.5" y="106.8" width="756.5" height="1" fill="#f8f2f2"/>
<rect x="37.5" y="189.7" width="756.5" height="1" fill="#f8f2f2"/>
<rect x="37.5" y="273.9" width="756.5" height="1" fill="#f8f2f2"/>
<rect x="37.5" y="357.9" width="756.5" height="1" fill="#f8f2f2"/>
<rect x="37.5" y="441.9" width="756.5" height="1" fill="#f8f2f2"/>
<rect x="37.5" y="469.0" width="756.5" height="1" fill="#f8f2f2"/>
<rect x="56.8" y="107.3" width="1" height="336" fill="#f8f2f2"/>
<rect x="149.1" y="107.3" width="1" height="336" fill="#f8f2f2"/>
<rect x="241.5" y="107.3" width="1" height="336" fill="#f8f2f2"/>
<rect x="334.1" y="107.3" width="1" height="336" fill="#f8f2f2"/>
<rect x="426.8" y="107.3" width="1" height="336" fill="#f8f2f2"/>
<rect x="519.3" y="107.3" width="1" height="336" fill="#f8f2f2"/>
<rect x="611.9" y="107.3" width="1" height="336" fill="#f8f2f2"/>
<rect x="704.5" y="107.3" width="1" height="336" fill="#f8f2f2"/>
<text x="38" y="120.6" class="ax" fill="#7a7a7a">237.230</text>
<text x="38" y="278" class="ax" fill="#7a7a7a">180.700</text>
<clipPath id="cpb"><rect x="37.5" y="100" width="756.5" height="440"/></clipPath>
<g clip-path="url(#cpb)">
<circle cx="49.8" cy="438.4" r="3.1" fill="#a8974a"/>
<circle cx="142.4" cy="438.4" r="3.1" fill="#a8974a"/>
<circle cx="242.1" cy="438.4" r="3.1" fill="#a8974a"/>
<circle cx="334.7" cy="438.4" r="3.1" fill="#a8974a"/>
<circle cx="427.3" cy="438.4" r="3.1" fill="#a8974a"/>
<circle cx="519.8" cy="438.4" r="3.1" fill="#a8974a"/>
<circle cx="612.4" cy="438.4" r="3.1" fill="#a8974a"/>
<circle cx="705.0" cy="438.4" r="3.1" fill="#a8974a"/>
<text x="38" y="439.6" class="ax" fill="#7a7a7a">124.170</text>
<line x1="37.5" y1="151.4" x2="794" y2="151.4" stroke="#d1c27a" stroke-width="1.2" stroke-dasharray="4,2.12"/>
<text x="57.3" y="462" class="ax" text-anchor="middle" fill="#7a7a7a">2022-08</text>
<text x="149.6" y="462" class="ax" text-anchor="middle" fill="#7a7a7a">2022-11</text>
<text x="242.0" y="462" class="ax" text-anchor="middle" fill="#7a7a7a">2023-02</text>
<text x="334.6" y="462" class="ax" text-anchor="middle" fill="#7a7a7a">2023-05</text>
<text x="427.3" y="462" class="ax" text-anchor="middle" fill="#7a7a7a">2023-08</text>
<text x="519.8" y="462" class="ax" text-anchor="middle" fill="#7a7a7a">2023-11</text>
<text x="612.4" y="462" class="ax" text-anchor="middle" fill="#7a7a7a">2024-02</text>
<text x="705.0" y="462" class="ax" text-anchor="middle" fill="#7a7a7a">2024-05</text>
<rect x="35.05" y="358.00" width="1.1" height="16.00" fill="#8a7c4d"/>
<rect x="33.10" y="360.00" width="5" height="12.50" fill="#8a7c4d"/>
<rect x="42.17" y="343.10" width="1.1" height="26.60" fill="#8a7c4d"/>
<rect x="40.22" y="349.20" width="5" height="8.70" fill="#8a7c4d"/>
<rect x="49.29" y="322.30" width="1.1" height="35.60" fill="#8a7c4d"/>
<rect x="47.34" y="325.40" width="5" height="23.50" fill="#8a7c4d"/>
<rect x="56.41" y="312.20" width="1.1" height="20.80" fill="#8a7c4d"/>
<rect x="54.46" y="317.80" width="5" height="11.70" fill="#8a7c4d"/>
<rect x="63.53" y="298.40" width="1.1" height="24.20" fill="#8a7c4d"/>
<rect x="61.58" y="298.40" width="5" height="15.90" fill="#8a7c4d"/>
<rect x="70.66" y="287.30" width="1.1" height="14.30" fill="#9d9163"/>
<rect x="68.71" y="299.80" width="5" height="1.80" fill="#9d9163"/>
<rect x="77.78" y="301.60" width="1.1" height="20.70" fill="#9d9163"/>
<rect x="75.83" y="305.30" width="5" height="17.00" fill="#9d9163"/>
<rect x="84.90" y="324.30" width="1.1" height="23.00" fill="#9d9163"/>
<rect x="82.95" y="329.30" width="5" height="14.80" fill="#9d9163"/>
<rect x="92.02" y="338.50" width="1.1" height="14.60" fill="#8a7c4d"/>
<rect x="90.07" y="340.20" width="5" height="1.80" fill="#8a7c4d"/>
<rect x="99.14" y="321.00" width="1.1" height="43.80" fill="#9d9163"/>
<rect x="97.19" y="334.00" width="5" height="24.30" fill="#9d9163"/>
<rect x="106.26" y="336.20" width="1.1" height="27.90" fill="#8a7c4d"/>
<rect x="104.31" y="359.70" width="5" height="3.30" fill="#8a7c4d"/>
<rect x="113.38" y="347.50" width="1.1" height="46.10" fill="#9d9163"/>
<rect x="111.43" y="361.40" width="5" height="32.20" fill="#9d9163"/>
<rect x="120.50" y="368.60" width="1.1" height="26.00" fill="#8a7c4d"/>
<rect x="118.55" y="388.40" width="5" height="5.50" fill="#8a7c4d"/>
<rect x="127.62" y="376.30" width="1.1" height="28.00" fill="#9d9163"/>
<rect x="125.67" y="387.70" width="5" height="4.80" fill="#9d9163"/>
<rect x="134.74" y="366.50" width="1.1" height="21.20" fill="#8a7c4d"/>
<rect x="132.79" y="367.60" width="5" height="18.00" fill="#8a7c4d"/>
<rect x="141.87" y="339.20" width="1.1" height="37.40" fill="#8a7c4d"/>
<rect x="139.92" y="344.50" width="5" height="23.80" fill="#8a7c4d"/>
<rect x="148.99" y="345.20" width="1.1" height="59.10" fill="#9d9163"/>
<rect x="147.04" y="352.00" width="5" height="40.80" fill="#9d9163"/>
<rect x="156.11" y="360.70" width="1.1" height="42.90" fill="#8a7c4d"/>
<rect x="154.16" y="361.40" width="5" height="35.30" fill="#8a7c4d"/>
<rect x="163.23" y="350.00" width="1.1" height="21.00" fill="#8a7c4d"/>
<rect x="161.28" y="357.00" width="5" height="6.00" fill="#8a7c4d"/>
<rect x="170.35" y="355.60" width="1.1" height="13.40" fill="#9d9163"/>
<rect x="168.40" y="360.00" width="5" height="5.20" fill="#9d9163"/>
<rect x="177.47" y="363.00" width="1.1" height="24.70" fill="#8a7c4d"/>
<rect x="175.52" y="366.90" width="5" height="6.70" fill="#8a7c4d"/>
<rect x="184.59" y="358.00" width="1.1" height="30.40" fill="#9d9163"/>
<rect x="182.64" y="366.90" width="5" height="15.20" fill="#9d9163"/>
<rect x="191.71" y="360.70" width="1.1" height="45.70" fill="#9d9163"/>
<rect x="189.76" y="380.80" width="5" height="23.20" fill="#9d9163"/>
<rect x="198.83" y="398.00" width="1.1" height="19.40" fill="#9d9163"/>
<rect x="196.88" y="402.60" width="5" height="8.60" fill="#9d9163"/>
<rect x="205.95" y="413.30" width="1.1" height="14.50" fill="#9d9163"/>
<rect x="204.00" y="413.30" width="5" height="3.20" fill="#9d9163"/>
<rect x="213.07" y="414.70" width="1.1" height="18.70" fill="#9d9163"/>
<rect x="211.12" y="416.50" width="5" height="1.20" fill="#9d9163"/>
<rect x="220.20" y="402.90" width="1.1" height="18.70" fill="#8a7c4d"/>
<rect x="218.25" y="403.60" width="5" height="11.10" fill="#8a7c4d"/>
<rect x="227.32" y="392.50" width="1.1" height="13.20" fill="#8a7c4d"/>
<rect x="225.37" y="394.90" width="5" height="8.00" fill="#8a7c4d"/>
<rect x="234.44" y="368.60" width="1.1" height="25.30" fill="#8a7c4d"/>
<rect x="232.49" y="372.20" width="5" height="21.00" fill="#8a7c4d"/>
<rect x="241.56" y="340.10" width="1.1" height="44.30" fill="#8a7c4d"/>
<rect x="239.61" y="348.00" width="5" height="26.30" fill="#8a7c4d"/>
<rect x="248.68" y="346.20" width="1.1" height="16.40" fill="#9d9163"/>
<rect x="246.73" y="353.40" width="5" height="3.80" fill="#9d9163"/>
<rect x="255.80" y="342.80" width="1.1" height="15.20" fill="#8a7c4d"/>
<rect x="253.85" y="353.80" width="5" height="3.70" fill="#8a7c4d"/>
<rect x="262.92" y="357.20" width="1.1" height="15.20" fill="#9d9163"/>
<rect x="260.97" y="359.70" width="5" height="10.20" fill="#9d9163"/>
<rect x="270.04" y="357.20" width="1.1" height="19.40" fill="#8a7c4d"/>
<rect x="268.09" y="358.00" width="5" height="8.50" fill="#8a7c4d"/>
<rect x="277.16" y="342.80" width="1.1" height="23.70" fill="#9d9163"/>
<rect x="275.21" y="350.00" width="5" height="14.80" fill="#9d9163"/>
<rect x="284.29" y="341.60" width="1.1" height="25.70" fill="#8a7c4d"/>
<rect x="282.34" y="346.20" width="5" height="20.30" fill="#8a7c4d"/>
<rect x="291.41" y="326.40" width="1.1" height="22.30" fill="#8a7c4d"/>
<rect x="289.46" y="331.80" width="5" height="15.20" fill="#8a7c4d"/>
<rect x="298.53" y="318.20" width="1.1" height="24.60" fill="#8a7c4d"/>
<rect x="296.58" y="318.60" width="5" height="13.50" fill="#8a7c4d"/>
<rect x="305.65" y="312.80" width="1.1" height="13.90" fill="#8a7c4d"/>
<rect x="303.70" y="319.00" width="5" height="1.80" fill="#8a7c4d"/>
<rect x="312.77" y="314.80" width="1.1" height="17.80" fill="#8a7c4d"/>
<rect x="310.82" y="318.20" width="5" height="9.30" fill="#8a7c4d"/>
<rect x="319.89" y="309.40" width="1.1" height="10.20" fill="#9d9163"/>
<rect x="317.94" y="317.90" width="5" height="1.70" fill="#9d9163"/>
<rect x="327.01" y="304.70" width="1.1" height="19.50" fill="#8a7c4d"/>
<rect x="325.06" y="305.50" width="5" height="11.90" fill="#8a7c4d"/>
<rect x="334.13" y="292.50" width="1.1" height="27.40" fill="#8a7c4d"/>
<rect x="332.18" y="294.20" width="5" height="11.30" fill="#8a7c4d"/>
<rect x="341.25" y="291.50" width="1.1" height="9.80" fill="#8a7c4d"/>
<rect x="339.30" y="297.10" width="5" height="1.70" fill="#8a7c4d"/>
<rect x="348.37" y="286.90" width="1.1" height="15.30" fill="#8a7c4d"/>
<rect x="346.42" y="290.00" width="5" height="4.90" fill="#8a7c4d"/>
<rect x="355.50" y="288.60" width="1.1" height="14.10" fill="#8a7c4d"/>
<rect x="353.55" y="289.10" width="5" height="3.70" fill="#8a7c4d"/>
<rect x="362.62" y="271.70" width="1.1" height="13.50" fill="#8a7c4d"/>
<rect x="360.67" y="273.40" width="5" height="11.30" fill="#8a7c4d"/>
<rect x="369.74" y="262.40" width="1.1" height="21.10" fill="#9d9163"/>
<rect x="367.79" y="269.20" width="5" height="3.70" fill="#9d9163"/>
<rect x="376.86" y="256.50" width="1.1" height="16.90" fill="#8a7c4d"/>
<rect x="374.91" y="262.70" width="5" height="9.80" fill="#8a7c4d"/>
<rect x="383.98" y="255.30" width="1.1" height="13.50" fill="#8a7c4d"/>
<rect x="382.03" y="257.60" width="5" height="6.10" fill="#8a7c4d"/>
<rect x="391.10" y="235.60" width="1.1" height="25.10" fill="#8a7c4d"/>
<rect x="389.15" y="237.00" width="5" height="19.50" fill="#8a7c4d"/>
<rect x="398.22" y="237.00" width="1.1" height="13.20" fill="#9d9163"/>
<rect x="396.27" y="237.80" width="5" height="7.70" fill="#9d9163"/>
<rect x="405.34" y="244.10" width="1.1" height="13.20" fill="#8a7c4d"/>
<rect x="403.39" y="246.30" width="5" height="2.20" fill="#8a7c4d"/>
<rect x="412.46" y="225.20" width="1.1" height="18.90" fill="#8a7c4d"/>
<rect x="410.51" y="242.90" width="5" height="1.20" fill="#8a7c4d"/>
<rect x="419.58" y="228.20" width="1.1" height="12.20" fill="#8a7c4d"/>
<rect x="417.63" y="231.90" width="5" height="6.50" fill="#8a7c4d"/>
<rect x="426.71" y="229.40" width="1.1" height="41.10" fill="#9d9163"/>
<rect x="424.76" y="231.10" width="5" height="39.40" fill="#9d9163"/>
<rect x="433.83" y="267.80" width="1.1" height="17.90" fill="#9d9163"/>
<rect x="431.88" y="270.00" width="5" height="11.30" fill="#9d9163"/>
<rect x="440.95" y="278.00" width="1.1" height="20.80" fill="#9d9163"/>
<rect x="439.00" y="282.40" width="5" height="9.10" fill="#9d9163"/>
<rect x="448.07" y="272.20" width="1.1" height="21.30" fill="#8a7c4d"/>
<rect x="446.12" y="280.30" width="5" height="9.30" fill="#8a7c4d"/>
<rect x="455.19" y="248.20" width="1.1" height="31.30" fill="#8a7c4d"/>
<rect x="453.24" y="249.40" width="5" height="25.90" fill="#8a7c4d"/>
<rect x="462.31" y="248.20" width="1.1" height="45.70" fill="#9d9163"/>
<rect x="460.36" y="253.30" width="5" height="27.60" fill="#9d9163"/>
<rect x="469.43" y="275.80" width="1.1" height="18.10" fill="#9d9163"/>
<rect x="467.48" y="276.50" width="5" height="13.20" fill="#9d9163"/>
<rect x="476.55" y="277.80" width="1.1" height="15.30" fill="#9d9163"/>
<rect x="474.60" y="286.30" width="5" height="4.20" fill="#9d9163"/>
<rect x="483.67" y="285.50" width="1.1" height="25.30" fill="#9d9163"/>
<rect x="481.72" y="292.70" width="5" height="8.00" fill="#9d9163"/>
<rect x="490.79" y="282.10" width="1.1" height="19.40" fill="#8a7c4d"/>
<rect x="488.84" y="283.30" width="5" height="17.40" fill="#8a7c4d"/>
<rect x="497.92" y="269.70" width="1.1" height="18.30" fill="#8a7c4d"/>
<rect x="495.97" y="279.50" width="5" height="4.80" fill="#8a7c4d"/>
<rect x="505.04" y="279.20" width="1.1" height="17.60" fill="#9d9163"/>
<rect x="503.09" y="285.50" width="5" height="10.60" fill="#9d9163"/>
<rect x="512.16" y="293.90" width="1.1" height="22.50" fill="#9d9163"/>
<rect x="510.21" y="301.90" width="5" height="7.30" fill="#9d9163"/>
<rect x="519.28" y="282.60" width="1.1" height="27.40" fill="#8a7c4d"/>
<rect x="517.33" y="286.30" width="5" height="20.70" fill="#8a7c4d"/>
<rect x="526.40" y="258.40" width="1.1" height="29.30" fill="#8a7c4d"/>
<rect x="524.45" y="258.40" width="5" height="28.80" fill="#8a7c4d"/>
<rect x="533.52" y="245.40" width="1.1" height="18.90" fill="#8a7c4d"/>
<rect x="531.57" y="249.10" width="5" height="10.50" fill="#8a7c4d"/>
<rect x="540.64" y="239.80" width="1.1" height="10.10" fill="#8a7c4d"/>
<rect x="538.69" y="248.20" width="5" height="1.70" fill="#8a7c4d"/>
<rect x="547.76" y="242.30" width="1.1" height="10.50" fill="#8a7c4d"/>
<rect x="545.81" y="244.80" width="5" height="3.40" fill="#8a7c4d"/>
<rect x="554.88" y="231.30" width="1.1" height="23.70" fill="#8a7c4d"/>
<rect x="552.93" y="232.20" width="5" height="15.20" fill="#8a7c4d"/>
<rect x="562.00" y="221.20" width="1.1" height="22.50" fill="#8a7c4d"/>
<rect x="560.05" y="226.70" width="5" height="12.20" fill="#8a7c4d"/>
<rect x="569.13" y="226.20" width="1.1" height="13.60" fill="#9d9163"/>
<rect x="567.18" y="231.30" width="5" height="6.30" fill="#9d9163"/>
<rect x="576.25" y="235.20" width="1.1" height="9.60" fill="#9d9163"/>
<rect x="574.30" y="238.10" width="5" height="2.50" fill="#9d9163"/>
<rect x="583.37" y="252.80" width="1.1" height="23.00" fill="#9d9163"/>
<rect x="581.42" y="256.20" width="5" height="16.60" fill="#9d9163"/>
<rect x="590.49" y="256.70" width="1.1" height="14.70" fill="#8a7c4d"/>
<rect x="588.54" y="259.60" width="5" height="10.10" fill="#8a7c4d"/>
<rect x="597.61" y="242.60" width="1.1" height="32.20" fill="#8a7c4d"/>
<rect x="595.66" y="243.70" width="5" height="26.00" fill="#8a7c4d"/>
<rect x="604.73" y="230.10" width="1.1" height="13.60" fill="#8a7c4d"/>
<rect x="602.78" y="241.00" width="5" height="1.60" fill="#8a7c4d"/>
<rect x="611.85" y="242.00" width="1.1" height="36.20" fill="#9d9163"/>
<rect x="609.90" y="242.30" width="5" height="17.30" fill="#9d9163"/>
<rect x="618.97" y="245.40" width="1.1" height="14.20" fill="#8a7c4d"/>
<rect x="617.02" y="251.60" width="5" height="1.20" fill="#8a7c4d"/>
<rect x="626.09" y="252.50" width="1.1" height="19.90" fill="#9d9163"/>
<rect x="624.14" y="253.30" width="5" height="16.10" fill="#9d9163"/>
<rect x="633.21" y="262.30" width="1.1" height="13.90" fill="#8a7c4d"/>
<rect x="631.26" y="269.00" width="5" height="1.70" fill="#8a7c4d"/>
<rect x="640.34" y="266.30" width="1.1" height="17.50" fill="#9d9163"/>
<rect x="638.39" y="270.20" width="5" height="6.30" fill="#9d9163"/>
<rect x="647.46" y="285.20" width="1.1" height="22.90" fill="#9d9163"/>
<rect x="645.51" y="287.00" width="5" height="14.80" fill="#9d9163"/>
<rect x="654.58" y="292.20" width="1.1" height="11.40" fill="#9d9163"/>
<rect x="652.63" y="296.80" width="5" height="1.20" fill="#9d9163"/>
<rect x="661.70" y="280.20" width="1.1" height="23.60" fill="#9d9163"/>
<rect x="659.75" y="288.90" width="5" height="8.90" fill="#9d9163"/>
<rect x="668.82" y="295.50" width="1.1" height="9.70" fill="#8a7c4d"/>
<rect x="666.87" y="299.90" width="5" height="2.70" fill="#8a7c4d"/>
<rect x="675.94" y="299.00" width="1.1" height="9.40" fill="#9d9163"/>
<rect x="673.99" y="300.80" width="5" height="4.40" fill="#9d9163"/>
<rect x="683.06" y="281.30" width="1.1" height="30.10" fill="#8a7c4d"/>
<rect x="681.11" y="285.70" width="5" height="20.40" fill="#8a7c4d"/>
<rect x="690.18" y="285.70" width="1.1" height="34.50" fill="#9d9163"/>
<rect x="688.23" y="289.30" width="5" height="28.60" fill="#9d9163"/>
<rect x="697.30" y="300.80" width="1.1" height="17.70" fill="#8a7c4d"/>
<rect x="695.35" y="306.10" width="5" height="10.60" fill="#8a7c4d"/>
<rect x="704.42" y="256.60" width="1.1" height="49.50" fill="#8a7c4d"/>
<rect x="702.47" y="267.20" width="5" height="27.40" fill="#8a7c4d"/>
<rect x="711.55" y="261.90" width="1.1" height="13.20" fill="#8a7c4d"/>
<rect x="709.60" y="267.20" width="5" height="2.60" fill="#8a7c4d"/>
<rect x="718.67" y="245.40" width="1.1" height="17.30" fill="#8a7c4d"/>
<rect x="716.72" y="248.60" width="5" height="12.40" fill="#8a7c4d"/>
<rect x="725.79" y="240.60" width="1.1" height="16.50" fill="#8a7c4d"/>
<rect x="723.84" y="247.70" width="5" height="2.30" fill="#8a7c4d"/>
<rect x="732.91" y="239.70" width="1.1" height="10.70" fill="#8a7c4d"/>
<rect x="730.96" y="241.50" width="5" height="1.80" fill="#8a7c4d"/>
<rect x="740.03" y="228.80" width="1.1" height="12.40" fill="#8a7c4d"/>
<rect x="738.08" y="228.80" width="5" height="11.30" fill="#8a7c4d"/>
<rect x="747.15" y="162.80" width="1.1" height="78.70" fill="#8a7c4d"/>
<rect x="745.20" y="184.90" width="5" height="43.90" fill="#8a7c4d"/>
<rect x="754.27" y="166.90" width="1.1" height="33.00" fill="#9d9163"/>
<rect x="752.32" y="182.30" width="5" height="16.40" fill="#9d9163"/>
<rect x="761.39" y="175.20" width="1.1" height="26.00" fill="#8a7c4d"/>
<rect x="759.44" y="190.20" width="5" height="7.10" fill="#8a7c4d"/>
<rect x="768.51" y="146.00" width="1.1" height="39.80" fill="#8a7c4d"/>
<rect x="766.56" y="146.30" width="5" height="39.50" fill="#8a7c4d"/>
<rect x="775.63" y="126.90" width="1.1" height="27.60" fill="#8a7c4d"/>
<rect x="773.68" y="134.00" width="5" height="9.30" fill="#8a7c4d"/>
<rect x="782.76" y="115.50" width="1.1" height="41.50" fill="#9d9163"/>
<rect x="780.81" y="117.30" width="5" height="34.00" fill="#9d9163"/>
<rect x="789.88" y="142.10" width="1.1" height="12.70" fill="#9d9163"/>
<rect x="787.93" y="144.20" width="5" height="7.10" fill="#9d9163"/>
<polyline points="35.60,351.40 42.72,351.82 49.84,351.08 56.96,350.90 64.08,350.99 71.21,351.64 78.33,352.90 85.45,354.23 92.57,354.79 99.69,355.83 106.81,356.29 113.93,357.58 121.05,357.57 128.17,358.67 135.29,357.79 142.42,355.15 149.54,355.32 156.66,353.81 163.78,352.05 170.90,352.00 178.02,352.34 185.14,353.99 192.26,357.92 199.38,362.59 206.50,368.50 213.62,374.28 220.75,378.35 227.87,380.89 234.99,382.49 242.11,381.98 249.23,381.85 256.35,379.86 263.47,378.93 270.59,377.21 277.71,377.07 284.84,377.15 291.96,374.11 299.08,371.97 306.20,370.07 313.32,367.72 320.44,365.35 327.56,361.52 334.68,356.03 341.80,350.33 348.92,344.00 356.05,337.58 363.17,331.07 370.29,324.98 377.41,319.50 384.53,314.98 391.65,308.97 398.77,303.56 405.89,297.38 413.01,291.62 420.13,284.97 427.26,281.19 434.38,278.67 441.50,277.31 448.62,275.38 455.74,271.94 462.86,270.00 469.98,269.21 477.10,269.02 484.22,269.20 491.34,268.87 498.47,268.39 505.59,269.52 512.71,271.34 519.83,272.52 526.95,272.56 534.07,273.17 541.19,273.30 548.31,273.23 555.43,272.69 562.55,272.43 569.68,270.78 576.80,268.75 583.92,267.82 591.04,266.78 598.16,266.50 605.28,264.50 612.40,263.00 619.52,261.05 626.64,259.49 633.76,258.77 640.89,258.62 648.01,258.90 655.13,258.34 662.25,258.91 669.37,260.99 676.49,263.79 683.61,265.67 690.73,269.32 697.85,273.01 704.97,275.04 712.10,276.52 719.22,276.92 726.34,275.66 733.46,274.76 740.58,274.01 747.70,271.21 754.82,268.16 761.94,265.09 769.06,258.94 776.18,252.19 783.31,245.93 790.43,238.41" fill="none" stroke="#4a78ea" stroke-width="1.1" stroke-linejoin="round"/>
<polyline points="35.60,380.88 42.72,379.02 49.84,372.70 56.96,367.43 64.08,358.74 71.21,349.18 78.33,342.47 85.45,337.73 92.57,332.52 99.69,331.73 106.81,331.70 113.93,336.14 121.05,342.44 128.17,349.91 135.29,356.83 142.42,361.12 149.54,368.17 156.66,369.90 163.78,371.58 170.90,372.27 178.02,372.99 185.14,371.84 192.26,373.40 199.38,375.27 206.50,380.16 213.62,387.45 220.75,388.53 227.87,391.88 234.99,393.40 242.11,391.68 249.23,390.71 256.35,387.88 263.47,384.47 270.59,379.15 277.71,373.98 284.84,366.86 291.96,359.68 299.08,352.05 306.20,346.73 313.32,343.75 320.44,339.99 327.56,335.16 334.68,327.59 341.80,321.50 348.92,314.02 356.05,308.31 363.17,302.47 370.29,297.90 377.41,292.27 384.53,286.21 391.65,277.95 398.77,271.95 405.89,267.16 413.01,261.74 420.13,255.93 427.26,254.07 434.38,254.86 441.50,256.72 448.62,258.48 455.74,257.66 462.86,262.05 469.98,266.47 477.10,270.89 484.22,276.67 491.34,281.81 498.47,282.71 505.59,284.19 512.71,285.96 519.83,286.56 526.95,287.46 534.07,284.28 541.19,280.13 548.31,275.56 555.43,268.71 562.55,263.05 569.68,258.86 576.80,253.31 583.92,249.67 591.04,247.00 598.16,245.53 605.28,244.72 612.40,245.86 619.52,246.54 626.64,250.26 633.76,254.49 640.89,258.38 648.01,264.50 655.13,267.00 662.25,270.82 669.37,276.44 676.49,282.86 683.61,285.47 690.73,292.10 697.85,295.77 704.97,295.59 712.10,294.66 719.22,289.34 726.34,284.33 733.46,278.70 740.58,271.59 747.70,259.56 754.82,250.86 761.94,238.09 769.06,222.11 776.18,208.79 783.31,197.20 790.43,187.47" fill="none" stroke="#ae9f5b" stroke-width="1.1" stroke-linejoin="round"/>
<polyline points="35.60,379.88 42.72,371.84 49.84,358.61 56.96,343.72 64.08,330.16 71.21,318.48 78.33,313.10 85.45,316.84 92.57,321.32 99.69,333.30 106.81,344.92 113.93,359.18 121.05,368.04 128.17,378.50 135.29,380.36 142.42,377.32 149.54,377.16 156.66,371.76 163.78,364.66 170.90,364.18 178.02,368.66 185.14,366.52 192.26,375.04 199.38,385.88 206.50,396.14 213.62,406.24 220.75,410.54 227.87,408.72 234.99,400.92 242.11,387.22 249.23,375.18 256.35,365.22 263.47,360.22 270.59,357.38 277.71,360.74 284.84,358.54 291.96,354.14 299.08,343.88 306.20,336.08 313.32,326.76 320.44,321.44 327.56,316.18 334.68,311.30 341.80,306.92 348.92,301.28 356.05,295.18 363.17,288.76 370.29,284.50 377.41,277.62 384.53,271.14 391.65,260.72 398.77,255.14 405.89,249.82 413.01,245.86 420.13,240.72 427.26,247.42 434.38,254.58 441.50,263.62 448.62,271.10 455.74,274.60 462.86,276.68 469.98,278.36 477.10,278.16 484.22,282.24 491.34,289.02 498.47,288.74 505.59,290.02 512.71,293.76 519.83,290.88 526.95,285.90 534.07,279.82 541.19,270.24 548.31,257.36 555.43,246.54 562.55,240.20 569.68,237.90 576.80,236.38 583.92,241.98 591.04,247.46 598.16,250.86 605.28,251.54 612.40,255.34 619.52,251.10 626.64,253.06 633.76,258.12 640.89,265.22 648.01,273.66 655.13,282.90 662.25,288.58 669.37,294.76 676.49,300.50 683.61,297.28 690.73,301.30 697.85,302.96 704.97,296.42 712.10,288.82 719.22,281.40 726.34,267.36 733.46,254.44 740.58,246.76 747.70,230.30 754.82,220.32 761.94,208.82 769.06,189.78 776.18,170.82 783.31,164.10 790.43,154.62" fill="none" stroke="#d8c552" stroke-width="1.1" stroke-linejoin="round"/>
<text x="37.8" y="484.8" class="vl" fill="#7a7a7a">成交量884.60万股</text>
<rect x="33.20" y="505.90" width="4.8" height="30.00" fill="#8a7c4d"/>
<rect x="40.32" y="506.10" width="4.8" height="29.80" fill="#8a7c4d"/>
<rect x="47.44" y="505.40" width="4.8" height="30.50" fill="#8a7c4d"/>
<rect x="54.56" y="509.50" width="4.8" height="26.40" fill="#8a7c4d"/>
<rect x="61.68" y="509.80" width="4.8" height="26.10" fill="#8a7c4d"/>
<rect x="68.81" y="509.50" width="4.8" height="26.40" fill="#9d9163"/>
<rect x="75.93" y="510.70" width="4.8" height="25.20" fill="#9d9163"/>
<rect x="83.05" y="503.90" width="4.8" height="32.00" fill="#9d9163"/>
<rect x="90.17" y="510.00" width="4.8" height="25.90" fill="#8a7c4d"/>
<rect x="97.29" y="489.30" width="4.8" height="46.60" fill="#9d9163"/>
<rect x="104.41" y="497.10" width="4.8" height="38.80" fill="#8a7c4d"/>
<rect x="111.53" y="488.80" width="4.8" height="47.10" fill="#9d9163"/>
<rect x="118.65" y="500.00" width="4.8" height="35.90" fill="#8a7c4d"/>
<rect x="125.77" y="501.00" width="4.8" height="34.90" fill="#9d9163"/>
<rect x="132.89" y="503.40" width="4.8" height="32.50" fill="#8a7c4d"/>
<rect x="140.02" y="493.70" width="4.8" height="42.20" fill="#8a7c4d"/>
<rect x="147.14" y="493.90" width="4.8" height="42.00" fill="#9d9163"/>
<rect x="154.26" y="498.00" width="4.8" height="37.90" fill="#8a7c4d"/>
<rect x="161.38" y="504.40" width="4.8" height="31.50" fill="#8a7c4d"/>
<rect x="168.50" y="519.00" width="4.8" height="16.90" fill="#9d9163"/>
<rect x="175.62" y="502.90" width="4.8" height="33.00" fill="#8a7c4d"/>
<rect x="182.74" y="507.80" width="4.8" height="28.10" fill="#9d9163"/>
<rect x="189.86" y="494.60" width="4.8" height="41.30" fill="#9d9163"/>
<rect x="196.98" y="504.10" width="4.8" height="31.80" fill="#9d9163"/>
<rect x="204.10" y="510.70" width="4.8" height="25.20" fill="#9d9163"/>
<rect x="211.22" y="505.60" width="4.8" height="30.30" fill="#9d9163"/>
<rect x="218.35" y="508.50" width="4.8" height="27.40" fill="#8a7c4d"/>
<rect x="225.47" y="513.40" width="4.8" height="22.50" fill="#8a7c4d"/>
<rect x="232.59" y="507.80" width="4.8" height="28.10" fill="#8a7c4d"/>
<rect x="239.71" y="496.60" width="4.8" height="39.30" fill="#8a7c4d"/>
<rect x="246.83" y="508.80" width="4.8" height="27.10" fill="#9d9163"/>
<rect x="253.95" y="509.80" width="4.8" height="26.10" fill="#8a7c4d"/>
<rect x="261.07" y="517.60" width="4.8" height="18.30" fill="#9d9163"/>
<rect x="268.19" y="513.20" width="4.8" height="22.70" fill="#8a7c4d"/>
<rect x="275.31" y="510.00" width="4.8" height="25.90" fill="#9d9163"/>
<rect x="282.44" y="502.20" width="4.8" height="33.70" fill="#8a7c4d"/>
<rect x="289.56" y="506.80" width="4.8" height="29.10" fill="#8a7c4d"/>
<rect x="296.68" y="513.70" width="4.8" height="22.20" fill="#8a7c4d"/>
<rect x="303.80" y="519.00" width="4.8" height="16.90" fill="#8a7c4d"/>
<rect x="310.92" y="514.10" width="4.8" height="21.80" fill="#8a7c4d"/>
<rect x="318.04" y="515.10" width="4.8" height="20.80" fill="#9d9163"/>
<rect x="325.16" y="514.60" width="4.8" height="21.30" fill="#8a7c4d"/>
<rect x="332.28" y="505.90" width="4.8" height="30.00" fill="#8a7c4d"/>
<rect x="339.40" y="515.10" width="4.8" height="20.80" fill="#8a7c4d"/>
<rect x="346.52" y="514.60" width="4.8" height="21.30" fill="#8a7c4d"/>
<rect x="353.65" y="515.10" width="4.8" height="20.80" fill="#8a7c4d"/>
<rect x="360.77" y="512.20" width="4.8" height="23.70" fill="#8a7c4d"/>
<rect x="367.89" y="507.10" width="4.8" height="28.80" fill="#9d9163"/>
<rect x="375.01" y="508.50" width="4.8" height="27.40" fill="#8a7c4d"/>
<rect x="382.13" y="518.80" width="4.8" height="17.10" fill="#8a7c4d"/>
<rect x="389.25" y="512.70" width="4.8" height="23.20" fill="#8a7c4d"/>
<rect x="396.37" y="521.70" width="4.8" height="14.20" fill="#9d9163"/>
<rect x="403.49" y="515.10" width="4.8" height="20.80" fill="#8a7c4d"/>
<rect x="410.61" y="510.20" width="4.8" height="25.70" fill="#8a7c4d"/>
<rect x="417.73" y="517.10" width="4.8" height="18.80" fill="#8a7c4d"/>
<rect x="424.86" y="511.00" width="4.8" height="24.90" fill="#9d9163"/>
<rect x="431.98" y="508.50" width="4.8" height="27.40" fill="#9d9163"/>
<rect x="439.10" y="514.40" width="4.8" height="21.50" fill="#9d9163"/>
<rect x="446.22" y="515.60" width="4.8" height="20.30" fill="#8a7c4d"/>
<rect x="453.34" y="513.90" width="4.8" height="22.00" fill="#8a7c4d"/>
<rect x="460.46" y="510.70" width="4.8" height="25.20" fill="#9d9163"/>
<rect x="467.58" y="502.90" width="4.8" height="33.00" fill="#9d9163"/>
<rect x="474.70" y="511.50" width="4.8" height="24.40" fill="#9d9163"/>
<rect x="481.82" y="512.20" width="4.8" height="23.70" fill="#9d9163"/>
<rect x="488.94" y="514.40" width="4.8" height="21.50" fill="#8a7c4d"/>
<rect x="496.07" y="515.90" width="4.8" height="20.00" fill="#8a7c4d"/>
<rect x="503.19" y="512.00" width="4.8" height="23.90" fill="#9d9163"/>
<rect x="510.31" y="512.20" width="4.8" height="23.70" fill="#9d9163"/>
<rect x="517.43" y="510.20" width="4.8" height="25.70" fill="#8a7c4d"/>
<rect x="524.55" y="511.00" width="4.8" height="24.90" fill="#8a7c4d"/>
<rect x="531.67" y="513.90" width="4.8" height="22.00" fill="#8a7c4d"/>
<rect x="538.79" y="523.90" width="4.8" height="12.00" fill="#8a7c4d"/>
<rect x="545.91" y="517.80" width="4.8" height="18.10" fill="#8a7c4d"/>
<rect x="553.03" y="515.10" width="4.8" height="20.80" fill="#8a7c4d"/>
<rect x="560.15" y="504.90" width="4.8" height="31.00" fill="#8a7c4d"/>
<rect x="567.28" y="516.80" width="4.8" height="19.10" fill="#9d9163"/>
<rect x="574.40" y="522.90" width="4.8" height="13.00" fill="#9d9163"/>
<rect x="581.52" y="513.20" width="4.8" height="22.70" fill="#9d9163"/>
<rect x="588.64" y="516.30" width="4.8" height="19.60" fill="#8a7c4d"/>
<rect x="595.76" y="514.60" width="4.8" height="21.30" fill="#8a7c4d"/>
<rect x="602.88" y="514.60" width="4.8" height="21.30" fill="#8a7c4d"/>
<rect x="610.00" y="509.00" width="4.8" height="26.90" fill="#9d9163"/>
<rect x="617.12" y="514.90" width="4.8" height="21.00" fill="#8a7c4d"/>
<rect x="624.24" y="513.70" width="4.8" height="22.20" fill="#9d9163"/>
<rect x="631.36" y="519.80" width="4.8" height="16.10" fill="#8a7c4d"/>
<rect x="638.49" y="506.80" width="4.8" height="29.10" fill="#9d9163"/>
<rect x="645.61" y="503.90" width="4.8" height="32.00" fill="#9d9163"/>
<rect x="652.73" y="505.90" width="4.8" height="30.00" fill="#9d9163"/>
<rect x="659.85" y="506.10" width="4.8" height="29.80" fill="#9d9163"/>
<rect x="666.97" y="516.30" width="4.8" height="19.60" fill="#8a7c4d"/>
<rect x="674.09" y="516.10" width="4.8" height="19.80" fill="#9d9163"/>
<rect x="681.21" y="509.50" width="4.8" height="26.40" fill="#8a7c4d"/>
<rect x="688.33" y="510.50" width="4.8" height="25.40" fill="#9d9163"/>
<rect x="695.45" y="515.90" width="4.8" height="20.00" fill="#8a7c4d"/>
<rect x="702.57" y="499.50" width="4.8" height="36.40" fill="#8a7c4d"/>
<rect x="709.70" y="511.20" width="4.8" height="24.70" fill="#8a7c4d"/>
<rect x="716.82" y="512.00" width="4.8" height="23.90" fill="#8a7c4d"/>
<rect x="723.94" y="518.80" width="4.8" height="17.10" fill="#8a7c4d"/>
<rect x="731.06" y="517.10" width="4.8" height="18.80" fill="#8a7c4d"/>
<rect x="738.18" y="515.90" width="4.8" height="20.00" fill="#8a7c4d"/>
<rect x="745.30" y="483.90" width="4.8" height="52.00" fill="#8a7c4d"/>
<rect x="752.42" y="494.40" width="4.8" height="41.50" fill="#9d9163"/>
<rect x="759.54" y="508.30" width="4.8" height="27.60" fill="#8a7c4d"/>
<rect x="766.66" y="518.00" width="4.8" height="17.90" fill="#8a7c4d"/>
<rect x="773.78" y="512.20" width="4.8" height="23.70" fill="#8a7c4d"/>
<rect x="780.91" y="512.90" width="4.8" height="23.00" fill="#9d9163"/>
<rect x="788.03" y="531.00" width="4.8" height="4.90" fill="#9d9163"/>
</g>
<text x="729.8" y="118.6" class="ax" text-anchor="end" fill="#7a7a7a">237.230</text>
<circle cx="732.4" cy="115.4" r="1.3" fill="#6b6b6b"/><line x1="732.4" y1="115.4" x2="783.3" y2="115.4" stroke="#6b6b6b" stroke-width="1"/>
<line x1="213.6" y1="433.4" x2="264.3" y2="433.4" stroke="#6b6b6b" stroke-width="1"/><circle cx="264.3" cy="433.4" r="1.3" fill="#6b6b6b"/>
 <text x="267.9" y="436.7" class="ax" fill="#7a7a7a">124.170</text></g></g>
<g clip-path="url(#cell3)"><g transform="translate(26.55,648.88) scale(1.0013,1.0025)"><rect x="37.6" y="39" width="52.2" height="32.5" rx="9" fill="#fdf1f4"/>
<text x="63.7" y="60.2" class="bt" text-anchor="middle" fill="#4a4246">分时</text>
<rect x="106.6" y="39" width="52.1" height="32.5" rx="9" fill="#fdf1f4"/>
<text x="132.7" y="60.2" class="bt" text-anchor="middle" fill="#4a4246">五日</text>
<rect x="175.7" y="39" width="47.0" height="32.5" rx="9" fill="#fdf1f4"/>
<text x="199.2" y="60.2" class="bt" text-anchor="middle" fill="#4a4246">日K</text>
<rect x="240.0" y="39" width="47.0" height="32.5" rx="9" fill="#f6eafc"/>
<text x="263.5" y="60.2" class="bt" text-anchor="middle" fill="#3a7fd5">周K</text>
<rect x="304.0" y="39" width="47.0" height="32.5" rx="9" fill="#fdf1f4"/>
<text x="327.5" y="60.2" class="bt" text-anchor="middle" fill="#4a4246">月K</text>
<rect x="368.0" y="39" width="67.0" height="32.5" rx="9" fill="#fdf1f4"/>
<text x="380.0" y="60.2" class="bt" fill="#4a4246">更多</text>
<path d="M411.0,53.6 l4.6,4.4 l4.6,-4.4" fill="none" stroke="#948a8e" stroke-width="1.05"/>
<path d="M630,49.6 h-2.3 v11.6 h2.3 M638.9,49.6 h2.3 v11.6 h-2.3" fill="none" stroke="#3a3336" stroke-width="1.5"/>
<path d="M631.3,56.6 l2,-2.4 l1.9,1.9 l2.2,-2.6" fill="none" stroke="#3a3336" stroke-width="1.3" stroke-linejoin="round"/>
<text x="704.5" y="60.2" class="bt" text-anchor="end" fill="#4a4246">区间统计</text>
<path d="M716.5,52 v-2 q0,-1.5 1.5,-1.5 h2 M726.5,48.5 h2 q1.5,0 1.5,1.5 v2 M730,58.5 v2 q0,1.5 -1.5,1.5 h-2 M720,62 h-2 q-1.5,0 -1.5,-1.5 v-2" fill="none" stroke="#3a3336" stroke-width="1.3"/>
<rect x="720.3" y="52" width="6" height="6.2" fill="none" stroke="#3a3336" stroke-width="1.3"/>
<text x="793" y="60.2" class="bt" text-anchor="end" fill="#4a4246">超级视图</text>
<text x="37.6" y="92.3" class="sm" fill="#4a4246">均线</text>
<text x="70.2" y="92.3" class="ma" fill="#e4b545">MA5 223.246</text>
<text x="166" y="92.3" class="ma" fill="#d0a74a">MA10 211.533</text>
<text x="270" y="92.3" class="ma" fill="#3a7fd5">MA20 193.422</text>
<text x="793" y="92.3" class="sm" text-anchor="end" fill="#4a4246">不复权</text>
<rect x="37.5" y="106.8" width="756.5" height="1" fill="#fcf2f4"/>
<rect x="37.5" y="189.7" width="756.5" height="1" fill="#fcf2f4"/>
<rect x="37.5" y="273.9" width="756.5" height="1" fill="#fcf2f4"/>
<rect x="37.5" y="357.9" width="756.5" height="1" fill="#fcf2f4"/>
<rect x="37.5" y="441.9" width="756.5" height="1" fill="#fcf2f4"/>
<rect x="37.5" y="469.0" width="756.5" height="1" fill="#fcf2f4"/>
<rect x="56.8" y="107.3" width="1" height="336" fill="#fcf2f4"/>
<rect x="149.1" y="107.3" width="1" height="336" fill="#fcf2f4"/>
<rect x="241.5" y="107.3" width="1" height="336" fill="#fcf2f4"/>
<rect x="334.1" y="107.3" width="1" height="336" fill="#fcf2f4"/>
<rect x="426.8" y="107.3" width="1" height="336" fill="#fcf2f4"/>
<rect x="519.3" y="107.3" width="1" height="336" fill="#fcf2f4"/>
<rect x="611.9" y="107.3" width="1" height="336" fill="#fcf2f4"/>
<rect x="704.5" y="107.3" width="1" height="336" fill="#fcf2f4"/>
<text x="38" y="120.6" class="ax" fill="#8a7f84">237.230</text>
<text x="38" y="278" class="ax" fill="#8a7f84">180.700</text>
<clipPath id="cpc"><rect x="37.5" y="100" width="756.5" height="440"/></clipPath>
<g clip-path="url(#cpc)">
<circle cx="49.8" cy="438.4" r="3.1" fill="#b08a3a"/>
<circle cx="142.4" cy="438.4" r="3.1" fill="#b08a3a"/>
<circle cx="242.1" cy="438.4" r="3.1" fill="#b08a3a"/>
<circle cx="334.7" cy="438.4" r="3.1" fill="#b08a3a"/>
<circle cx="427.3" cy="438.4" r="3.1" fill="#b08a3a"/>
<circle cx="519.8" cy="438.4" r="3.1" fill="#b08a3a"/>
<circle cx="612.4" cy="438.4" r="3.1" fill="#b08a3a"/>
<circle cx="705.0" cy="438.4" r="3.1" fill="#b08a3a"/>
<text x="38" y="439.6" class="ax" fill="#8a7f84">124.170</text>
<line x1="37.5" y1="151.4" x2="794" y2="151.4" stroke="#d6b768" stroke-width="1.2" stroke-dasharray="4,2.12"/>
<text x="57.3" y="462" class="ax" text-anchor="middle" fill="#8a7f84">2022-08</text>
<text x="149.6" y="462" class="ax" text-anchor="middle" fill="#8a7f84">2022-11</text>
<text x="242.0" y="462" class="ax" text-anchor="middle" fill="#8a7f84">2023-02</text>
<text x="334.6" y="462" class="ax" text-anchor="middle" fill="#8a7f84">2023-05</text>
<text x="427.3" y="462" class="ax" text-anchor="middle" fill="#8a7f84">2023-08</text>
<text x="519.8" y="462" class="ax" text-anchor="middle" fill="#8a7f84">2023-11</text>
<text x="612.4" y="462" class="ax" text-anchor="middle" fill="#8a7f84">2024-02</text>
<text x="705.0" y="462" class="ax" text-anchor="middle" fill="#8a7f84">2024-05</text>
<rect x="35.05" y="358.00" width="1.1" height="16.00" fill="#a5842f"/>
<rect x="33.10" y="360.00" width="5" height="12.50" fill="#a5842f"/>
<rect x="42.17" y="343.10" width="1.1" height="26.60" fill="#a5842f"/>
<rect x="40.22" y="349.20" width="5" height="8.70" fill="#a5842f"/>
<rect x="49.29" y="322.30" width="1.1" height="35.60" fill="#a5842f"/>
<rect x="47.34" y="325.40" width="5" height="23.50" fill="#a5842f"/>
<rect x="56.41" y="312.20" width="1.1" height="20.80" fill="#a5842f"/>
<rect x="54.46" y="317.80" width="5" height="11.70" fill="#a5842f"/>
<rect x="63.53" y="298.40" width="1.1" height="24.20" fill="#a5842f"/>
<rect x="61.58" y="298.40" width="5" height="15.90" fill="#a5842f"/>
<rect x="70.66" y="287.30" width="1.1" height="14.30" fill="#ae9a80"/>
<rect x="68.71" y="299.80" width="5" height="1.80" fill="#ae9a80"/>
<rect x="77.78" y="301.60" width="1.1" height="20.70" fill="#ae9a80"/>
<rect x="75.83" y="305.30" width="5" height="17.00" fill="#ae9a80"/>
<rect x="84.90" y="324.30" width="1.1" height="23.00" fill="#ae9a80"/>
<rect x="82.95" y="329.30" width="5" height="14.80" fill="#ae9a80"/>
<rect x="92.02" y="338.50" width="1.1" height="14.60" fill="#a5842f"/>
<rect x="90.07" y="340.20" width="5" height="1.80" fill="#a5842f"/>
<rect x="99.14" y="321.00" width="1.1" height="43.80" fill="#ae9a80"/>
<rect x="97.19" y="334.00" width="5" height="24.30" fill="#ae9a80"/>
<rect x="106.26" y="336.20" width="1.1" height="27.90" fill="#a5842f"/>
<rect x="104.31" y="359.70" width="5" height="3.30" fill="#a5842f"/>
<rect x="113.38" y="347.50" width="1.1" height="46.10" fill="#ae9a80"/>
<rect x="111.43" y="361.40" width="5" height="32.20" fill="#ae9a80"/>
<rect x="120.50" y="368.60" width="1.1" height="26.00" fill="#a5842f"/>
<rect x="118.55" y="388.40" width="5" height="5.50" fill="#a5842f"/>
<rect x="127.62" y="376.30" width="1.1" height="28.00" fill="#ae9a80"/>
<rect x="125.67" y="387.70" width="5" height="4.80" fill="#ae9a80"/>
<rect x="134.74" y="366.50" width="1.1" height="21.20" fill="#a5842f"/>
<rect x="132.79" y="367.60" width="5" height="18.00" fill="#a5842f"/>
<rect x="141.87" y="339.20" width="1.1" height="37.40" fill="#a5842f"/>
<rect x="139.92" y="344.50" width="5" height="23.80" fill="#a5842f"/>
<rect x="148.99" y="345.20" width="1.1" height="59.10" fill="#ae9a80"/>
<rect x="147.04" y="352.00" width="5" height="40.80" fill="#ae9a80"/>
<rect x="156.11" y="360.70" width="1.1" height="42.90" fill="#a5842f"/>
<rect x="154.16" y="361.40" width="5" height="35.30" fill="#a5842f"/>
<rect x="163.23" y="350.00" width="1.1" height="21.00" fill="#a5842f"/>
<rect x="161.28" y="357.00" width="5" height="6.00" fill="#a5842f"/>
<rect x="170.35" y="355.60" width="1.1" height="13.40" fill="#ae9a80"/>
<rect x="168.40" y="360.00" width="5" height="5.20" fill="#ae9a80"/>
<rect x="177.47" y="363.00" width="1.1" height="24.70" fill="#a5842f"/>
<rect x="175.52" y="366.90" width="5" height="6.70" fill="#a5842f"/>
<rect x="184.59" y="358.00" width="1.1" height="30.40" fill="#ae9a80"/>
<rect x="182.64" y="366.90" width="5" height="15.20" fill="#ae9a80"/>
<rect x="191.71" y="360.70" width="1.1" height="45.70" fill="#ae9a80"/>
<rect x="189.76" y="380.80" width="5" height="23.20" fill="#ae9a80"/>
<rect x="198.83" y="398.00" width="1.1" height="19.40" fill="#ae9a80"/>
<rect x="196.88" y="402.60" width="5" height="8.60" fill="#ae9a80"/>
<rect x="205.95" y="413.30" width="1.1" height="14.50" fill="#ae9a80"/>
<rect x="204.00" y="413.30" width="5" height="3.20" fill="#ae9a80"/>
<rect x="213.07" y="414.70" width="1.1" height="18.70" fill="#ae9a80"/>
<rect x="211.12" y="416.50" width="5" height="1.20" fill="#ae9a80"/>
<rect x="220.20" y="402.90" width="1.1" height="18.70" fill="#a5842f"/>
<rect x="218.25" y="403.60" width="5" height="11.10" fill="#a5842f"/>
<rect x="227.32" y="392.50" width="1.1" height="13.20" fill="#a5842f"/>
<rect x="225.37" y="394.90" width="5" height="8.00" fill="#a5842f"/>
<rect x="234.44" y="368.60" width="1.1" height="25.30" fill="#a5842f"/>
<rect x="232.49" y="372.20" width="5" height="21.00" fill="#a5842f"/>
<rect x="241.56" y="340.10" width="1.1" height="44.30" fill="#a5842f"/>
<rect x="239.61" y="348.00" width="5" height="26.30" fill="#a5842f"/>
<rect x="248.68" y="346.20" width="1.1" height="16.40" fill="#ae9a80"/>
<rect x="246.73" y="353.40" width="5" height="3.80" fill="#ae9a80"/>
<rect x="255.80" y="342.80" width="1.1" height="15.20" fill="#a5842f"/>
<rect x="253.85" y="353.80" width="5" height="3.70" fill="#a5842f"/>
<rect x="262.92" y="357.20" width="1.1" height="15.20" fill="#ae9a80"/>
<rect x="260.97" y="359.70" width="5" height="10.20" fill="#ae9a80"/>
<rect x="270.04" y="357.20" width="1.1" height="19.40" fill="#a5842f"/>
<rect x="268.09" y="358.00" width="5" height="8.50" fill="#a5842f"/>
<rect x="277.16" y="342.80" width="1.1" height="23.70" fill="#ae9a80"/>
<rect x="275.21" y="350.00" width="5" height="14.80" fill="#ae9a80"/>
<rect x="284.29" y="341.60" width="1.1" height="25.70" fill="#a5842f"/>
<rect x="282.34" y="346.20" width="5" height="20.30" fill="#a5842f"/>
<rect x="291.41" y="326.40" width="1.1" height="22.30" fill="#a5842f"/>
<rect x="289.46" y="331.80" width="5" height="15.20" fill="#a5842f"/>
<rect x="298.53" y="318.20" width="1.1" height="24.60" fill="#a5842f"/>
<rect x="296.58" y="318.60" width="5" height="13.50" fill="#a5842f"/>
<rect x="305.65" y="312.80" width="1.1" height="13.90" fill="#a5842f"/>
<rect x="303.70" y="319.00" width="5" height="1.80" fill="#a5842f"/>
<rect x="312.77" y="314.80" width="1.1" height="17.80" fill="#a5842f"/>
<rect x="310.82" y="318.20" width="5" height="9.30" fill="#a5842f"/>
<rect x="319.89" y="309.40" width="1.1" height="10.20" fill="#ae9a80"/>
<rect x="317.94" y="317.90" width="5" height="1.70" fill="#ae9a80"/>
<rect x="327.01" y="304.70" width="1.1" height="19.50" fill="#a5842f"/>
<rect x="325.06" y="305.50" width="5" height="11.90" fill="#a5842f"/>
<rect x="334.13" y="292.50" width="1.1" height="27.40" fill="#a5842f"/>
<rect x="332.18" y="294.20" width="5" height="11.30" fill="#a5842f"/>
<rect x="341.25" y="291.50" width="1.1" height="9.80" fill="#a5842f"/>
<rect x="339.30" y="297.10" width="5" height="1.70" fill="#a5842f"/>
<rect x="348.37" y="286.90" width="1.1" height="15.30" fill="#a5842f"/>
<rect x="346.42" y="290.00" width="5" height="4.90" fill="#a5842f"/>
<rect x="355.50" y="288.60" width="1.1" height="14.10" fill="#a5842f"/>
<rect x="353.55" y="289.10" width="5" height="3.70" fill="#a5842f"/>
<rect x="362.62" y="271.70" width="1.1" height="13.50" fill="#a5842f"/>
<rect x="360.67" y="273.40" width="5" height="11.30" fill="#a5842f"/>
<rect x="369.74" y="262.40" width="1.1" height="21.10" fill="#ae9a80"/>
<rect x="367.79" y="269.20" width="5" height="3.70" fill="#ae9a80"/>
<rect x="376.86" y="256.50" width="1.1" height="16.90" fill="#a5842f"/>
<rect x="374.91" y="262.70" width="5" height="9.80" fill="#a5842f"/>
<rect x="383.98" y="255.30" width="1.1" height="13.50" fill="#a5842f"/>
<rect x="382.03" y="257.60" width="5" height="6.10" fill="#a5842f"/>
<rect x="391.10" y="235.60" width="1.1" height="25.10" fill="#a5842f"/>
<rect x="389.15" y="237.00" width="5" height="19.50" fill="#a5842f"/>
<rect x="398.22" y="237.00" width="1.1" height="13.20" fill="#ae9a80"/>
<rect x="396.27" y="237.80" width="5" height="7.70" fill="#ae9a80"/>
<rect x="405.34" y="244.10" width="1.1" height="13.20" fill="#a5842f"/>
<rect x="403.39" y="246.30" width="5" height="2.20" fill="#a5842f"/>
<rect x="412.46" y="225.20" width="1.1" height="18.90" fill="#a5842f"/>
<rect x="410.51" y="242.90" width="5" height="1.20" fill="#a5842f"/>
<rect x="419.58" y="228.20" width="1.1" height="12.20" fill="#a5842f"/>
<rect x="417.63" y="231.90" width="5" height="6.50" fill="#a5842f"/>
<rect x="426.71" y="229.40" width="1.1" height="41.10" fill="#ae9a80"/>
<rect x="424.76" y="231.10" width="5" height="39.40" fill="#ae9a80"/>
<rect x="433.83" y="267.80" width="1.1" height="17.90" fill="#ae9a80"/>
<rect x="431.88" y="270.00" width="5" height="11.30" fill="#ae9a80"/>
<rect x="440.95" y="278.00" width="1.1" height="20.80" fill="#ae9a80"/>
<rect x="439.00" y="282.40" width="5" height="9.10" fill="#ae9a80"/>
<rect x="448.07" y="272.20" width="1.1" height="21.30" fill="#a5842f"/>
<rect x="446.12" y="280.30" width="5" height="9.30" fill="#a5842f"/>
<rect x="455.19" y="248.20" width="1.1" height="31.30" fill="#a5842f"/>
<rect x="453.24" y="249.40" width="5" height="25.90" fill="#a5842f"/>
<rect x="462.31" y="248.20" width="1.1" height="45.70" fill="#ae9a80"/>
<rect x="460.36" y="253.30" width="5" height="27.60" fill="#ae9a80"/>
<rect x="469.43" y="275.80" width="1.1" height="18.10" fill="#ae9a80"/>
<rect x="467.48" y="276.50" width="5" height="13.20" fill="#ae9a80"/>
<rect x="476.55" y="277.80" width="1.1" height="15.30" fill="#ae9a80"/>
<rect x="474.60" y="286.30" width="5" height="4.20" fill="#ae9a80"/>
<rect x="483.67" y="285.50" width="1.1" height="25.30" fill="#ae9a80"/>
<rect x="481.72" y="292.70" width="5" height="8.00" fill="#ae9a80"/>
<rect x="490.79" y="282.10" width="1.1" height="19.40" fill="#a5842f"/>
<rect x="488.84" y="283.30" width="5" height="17.40" fill="#a5842f"/>
<rect x="497.92" y="269.70" width="1.1" height="18.30" fill="#a5842f"/>
<rect x="495.97" y="279.50" width="5" height="4.80" fill="#a5842f"/>
<rect x="505.04" y="279.20" width="1.1" height="17.60" fill="#ae9a80"/>
<rect x="503.09" y="285.50" width="5" height="10.60" fill="#ae9a80"/>
<rect x="512.16" y="293.90" width="1.1" height="22.50" fill="#ae9a80"/>
<rect x="510.21" y="301.90" width="5" height="7.30" fill="#ae9a80"/>
<rect x="519.28" y="282.60" width="1.1" height="27.40" fill="#a5842f"/>
<rect x="517.33" y="286.30" width="5" height="20.70" fill="#a5842f"/>
<rect x="526.40" y="258.40" width="1.1" height="29.30" fill="#a5842f"/>
<rect x="524.45" y="258.40" width="5" height="28.80" fill="#a5842f"/>
<rect x="533.52" y="245.40" width="1.1" height="18.90" fill="#a5842f"/>
<rect x="531.57" y="249.10" width="5" height="10.50" fill="#a5842f"/>
<rect x="540.64" y="239.80" width="1.1" height="10.10" fill="#a5842f"/>
<rect x="538.69" y="248.20" width="5" height="1.70" fill="#a5842f"/>
<rect x="547.76" y="242.30" width="1.1" height="10.50" fill="#a5842f"/>
<rect x="545.81" y="244.80" width="5" height="3.40" fill="#a5842f"/>
<rect x="554.88" y="231.30" width="1.1" height="23.70" fill="#a5842f"/>
<rect x="552.93" y="232.20" width="5" height="15.20" fill="#a5842f"/>
<rect x="562.00" y="221.20" width="1.1" height="22.50" fill="#a5842f"/>
<rect x="560.05" y="226.70" width="5" height="12.20" fill="#a5842f"/>
<rect x="569.13" y="226.20" width="1.1" height="13.60" fill="#ae9a80"/>
<rect x="567.18" y="231.30" width="5" height="6.30" fill="#ae9a80"/>
<rect x="576.25" y="235.20" width="1.1" height="9.60" fill="#ae9a80"/>
<rect x="574.30" y="238.10" width="5" height="2.50" fill="#ae9a80"/>
<rect x="583.37" y="252.80" width="1.1" height="23.00" fill="#ae9a80"/>
<rect x="581.42" y="256.20" width="5" height="16.60" fill="#ae9a80"/>
<rect x="590.49" y="256.70" width="1.1" height="14.70" fill="#a5842f"/>
<rect x="588.54" y="259.60" width="5" height="10.10" fill="#a5842f"/>
<rect x="597.61" y="242.60" width="1.1" height="32.20" fill="#a5842f"/>
<rect x="595.66" y="243.70" width="5" height="26.00" fill="#a5842f"/>
<rect x="604.73" y="230.10" width="1.1" height="13.60" fill="#a5842f"/>
<rect x="602.78" y="241.00" width="5" height="1.60" fill="#a5842f"/>
<rect x="611.85" y="242.00" width="1.1" height="36.20" fill="#ae9a80"/>
<rect x="609.90" y="242.30" width="5" height="17.30" fill="#ae9a80"/>
<rect x="618.97" y="245.40" width="1.1" height="14.20" fill="#a5842f"/>
<rect x="617.02" y="251.60" width="5" height="1.20" fill="#a5842f"/>
<rect x="626.09" y="252.50" width="1.1" height="19.90" fill="#ae9a80"/>
<rect x="624.14" y="253.30" width="5" height="16.10" fill="#ae9a80"/>
<rect x="633.21" y="262.30" width="1.1" height="13.90" fill="#a5842f"/>
<rect x="631.26" y="269.00" width="5" height="1.70" fill="#a5842f"/>
<rect x="640.34" y="266.30" width="1.1" height="17.50" fill="#ae9a80"/>
<rect x="638.39" y="270.20" width="5" height="6.30" fill="#ae9a80"/>
<rect x="647.46" y="285.20" width="1.1" height="22.90" fill="#ae9a80"/>
<rect x="645.51" y="287.00" width="5" height="14.80" fill="#ae9a80"/>
<rect x="654.58" y="292.20" width="1.1" height="11.40" fill="#ae9a80"/>
<rect x="652.63" y="296.80" width="5" height="1.20" fill="#ae9a80"/>
<rect x="661.70" y="280.20" width="1.1" height="23.60" fill="#ae9a80"/>
<rect x="659.75" y="288.90" width="5" height="8.90" fill="#ae9a80"/>
<rect x="668.82" y="295.50" width="1.1" height="9.70" fill="#a5842f"/>
<rect x="666.87" y="299.90" width="5" height="2.70" fill="#a5842f"/>
<rect x="675.94" y="299.00" width="1.1" height="9.40" fill="#ae9a80"/>
<rect x="673.99" y="300.80" width="5" height="4.40" fill="#ae9a80"/>
<rect x="683.06" y="281.30" width="1.1" height="30.10" fill="#a5842f"/>
<rect x="681.11" y="285.70" width="5" height="20.40" fill="#a5842f"/>
<rect x="690.18" y="285.70" width="1.1" height="34.50" fill="#ae9a80"/>
<rect x="688.23" y="289.30" width="5" height="28.60" fill="#ae9a80"/>
<rect x="697.30" y="300.80" width="1.1" height="17.70" fill="#a5842f"/>
<rect x="695.35" y="306.10" width="5" height="10.60" fill="#a5842f"/>
<rect x="704.42" y="256.60" width="1.1" height="49.50" fill="#a5842f"/>
<rect x="702.47" y="267.20" width="5" height="27.40" fill="#a5842f"/>
<rect x="711.55" y="261.90" width="1.1" height="13.20" fill="#a5842f"/>
<rect x="709.60" y="267.20" width="5" height="2.60" fill="#a5842f"/>
<rect x="718.67" y="245.40" width="1.1" height="17.30" fill="#a5842f"/>
<rect x="716.72" y="248.60" width="5" height="12.40" fill="#a5842f"/>
<rect x="725.79" y="240.60" width="1.1" height="16.50" fill="#a5842f"/>
<rect x="723.84" y="247.70" width="5" height="2.30" fill="#a5842f"/>
<rect x="732.91" y="239.70" width="1.1" height="10.70" fill="#a5842f"/>
<rect x="730.96" y="241.50" width="5" height="1.80" fill="#a5842f"/>
<rect x="740.03" y="228.80" width="1.1" height="12.40" fill="#a5842f"/>
<rect x="738.08" y="228.80" width="5" height="11.30" fill="#a5842f"/>
<rect x="747.15" y="162.80" width="1.1" height="78.70" fill="#a5842f"/>
<rect x="745.20" y="184.90" width="5" height="43.90" fill="#a5842f"/>
<rect x="754.27" y="166.90" width="1.1" height="33.00" fill="#ae9a80"/>
<rect x="752.32" y="182.30" width="5" height="16.40" fill="#ae9a80"/>
<rect x="761.39" y="175.20" width="1.1" height="26.00" fill="#a5842f"/>
<rect x="759.44" y="190.20" width="5" height="7.10" fill="#a5842f"/>
<rect x="768.51" y="146.00" width="1.1" height="39.80" fill="#a5842f"/>
<rect x="766.56" y="146.30" width="5" height="39.50" fill="#a5842f"/>
<rect x="775.63" y="126.90" width="1.1" height="27.60" fill="#a5842f"/>
<rect x="773.68" y="134.00" width="5" height="9.30" fill="#a5842f"/>
<rect x="782.76" y="115.50" width="1.1" height="41.50" fill="#ae9a80"/>
<rect x="780.81" y="117.30" width="5" height="34.00" fill="#ae9a80"/>
<rect x="789.88" y="142.10" width="1.1" height="12.70" fill="#ae9a80"/>
<rect x="787.93" y="144.20" width="5" height="7.10" fill="#ae9a80"/>
<polyline points="35.60,351.40 42.72,351.82 49.84,351.08 56.96,350.90 64.08,350.99 71.21,351.64 78.33,352.90 85.45,354.23 92.57,354.79 99.69,355.83 106.81,356.29 113.93,357.58 121.05,357.57 128.17,358.67 135.29,357.79 142.42,355.15 149.54,355.32 156.66,353.81 163.78,352.05 170.90,352.00 178.02,352.34 185.14,353.99 192.26,357.92 199.38,362.59 206.50,368.50 213.62,374.28 220.75,378.35 227.87,380.89 234.99,382.49 242.11,381.98 249.23,381.85 256.35,379.86 263.47,378.93 270.59,377.21 277.71,377.07 284.84,377.15 291.96,374.11 299.08,371.97 306.20,370.07 313.32,367.72 320.44,365.35 327.56,361.52 334.68,356.03 341.80,350.33 348.92,344.00 356.05,337.58 363.17,331.07 370.29,324.98 377.41,319.50 384.53,314.98 391.65,308.97 398.77,303.56 405.89,297.38 413.01,291.62 420.13,284.97 427.26,281.19 434.38,278.67 441.50,277.31 448.62,275.38 455.74,271.94 462.86,270.00 469.98,269.21 477.10,269.02 484.22,269.20 491.34,268.87 498.47,268.39 505.59,269.52 512.71,271.34 519.83,272.52 526.95,272.56 534.07,273.17 541.19,273.30 548.31,273.23 555.43,272.69 562.55,272.43 569.68,270.78 576.80,268.75 583.92,267.82 591.04,266.78 598.16,266.50 605.28,264.50 612.40,263.00 619.52,261.05 626.64,259.49 633.76,258.77 640.89,258.62 648.01,258.90 655.13,258.34 662.25,258.91 669.37,260.99 676.49,263.79 683.61,265.67 690.73,269.32 697.85,273.01 704.97,275.04 712.10,276.52 719.22,276.92 726.34,275.66 733.46,274.76 740.58,274.01 747.70,271.21 754.82,268.16 761.94,265.09 769.06,258.94 776.18,252.19 783.31,245.93 790.43,238.41" fill="none" stroke="#3a7fd8" stroke-width="1.1" stroke-linejoin="round"/>
<polyline points="35.60,380.88 42.72,379.02 49.84,372.70 56.96,367.43 64.08,358.74 71.21,349.18 78.33,342.47 85.45,337.73 92.57,332.52 99.69,331.73 106.81,331.70 113.93,336.14 121.05,342.44 128.17,349.91 135.29,356.83 142.42,361.12 149.54,368.17 156.66,369.90 163.78,371.58 170.90,372.27 178.02,372.99 185.14,371.84 192.26,373.40 199.38,375.27 206.50,380.16 213.62,387.45 220.75,388.53 227.87,391.88 234.99,393.40 242.11,391.68 249.23,390.71 256.35,387.88 263.47,384.47 270.59,379.15 277.71,373.98 284.84,366.86 291.96,359.68 299.08,352.05 306.20,346.73 313.32,343.75 320.44,339.99 327.56,335.16 334.68,327.59 341.80,321.50 348.92,314.02 356.05,308.31 363.17,302.47 370.29,297.90 377.41,292.27 384.53,286.21 391.65,277.95 398.77,271.95 405.89,267.16 413.01,261.74 420.13,255.93 427.26,254.07 434.38,254.86 441.50,256.72 448.62,258.48 455.74,257.66 462.86,262.05 469.98,266.47 477.10,270.89 484.22,276.67 491.34,281.81 498.47,282.71 505.59,284.19 512.71,285.96 519.83,286.56 526.95,287.46 534.07,284.28 541.19,280.13 548.31,275.56 555.43,268.71 562.55,263.05 569.68,258.86 576.80,253.31 583.92,249.67 591.04,247.00 598.16,245.53 605.28,244.72 612.40,245.86 619.52,246.54 626.64,250.26 633.76,254.49 640.89,258.38 648.01,264.50 655.13,267.00 662.25,270.82 669.37,276.44 676.49,282.86 683.61,285.47 690.73,292.10 697.85,295.77 704.97,295.59 712.10,294.66 719.22,289.34 726.34,284.33 733.46,278.70 740.58,271.59 747.70,259.56 754.82,250.86 761.94,238.09 769.06,222.11 776.18,208.79 783.31,197.20 790.43,187.47" fill="none" stroke="#d2a445" stroke-width="1.1" stroke-linejoin="round"/>
<polyline points="35.60,379.88 42.72,371.84 49.84,358.61 56.96,343.72 64.08,330.16 71.21,318.48 78.33,313.10 85.45,316.84 92.57,321.32 99.69,333.30 106.81,344.92 113.93,359.18 121.05,368.04 128.17,378.50 135.29,380.36 142.42,377.32 149.54,377.16 156.66,371.76 163.78,364.66 170.90,364.18 178.02,368.66 185.14,366.52 192.26,375.04 199.38,385.88 206.50,396.14 213.62,406.24 220.75,410.54 227.87,408.72 234.99,400.92 242.11,387.22 249.23,375.18 256.35,365.22 263.47,360.22 270.59,357.38 277.71,360.74 284.84,358.54 291.96,354.14 299.08,343.88 306.20,336.08 313.32,326.76 320.44,321.44 327.56,316.18 334.68,311.30 341.80,306.92 348.92,301.28 356.05,295.18 363.17,288.76 370.29,284.50 377.41,277.62 384.53,271.14 391.65,260.72 398.77,255.14 405.89,249.82 413.01,245.86 420.13,240.72 427.26,247.42 434.38,254.58 441.50,263.62 448.62,271.10 455.74,274.60 462.86,276.68 469.98,278.36 477.10,278.16 484.22,282.24 491.34,289.02 498.47,288.74 505.59,290.02 512.71,293.76 519.83,290.88 526.95,285.90 534.07,279.82 541.19,270.24 548.31,257.36 555.43,246.54 562.55,240.20 569.68,237.90 576.80,236.38 583.92,241.98 591.04,247.46 598.16,250.86 605.28,251.54 612.40,255.34 619.52,251.10 626.64,253.06 633.76,258.12 640.89,265.22 648.01,273.66 655.13,282.90 662.25,288.58 669.37,294.76 676.49,300.50 683.61,297.28 690.73,301.30 697.85,302.96 704.97,296.42 712.10,288.82 719.22,281.40 726.34,267.36 733.46,254.44 740.58,246.76 747.70,230.30 754.82,220.32 761.94,208.82 769.06,189.78 776.18,170.82 783.31,164.10 790.43,154.62" fill="none" stroke="#e6b640" stroke-width="1.1" stroke-linejoin="round"/>
<text x="37.8" y="484.8" class="vl" fill="#8a7f84">成交量884.60万股</text>
<rect x="33.20" y="505.90" width="4.8" height="30.00" fill="#a5842f"/>
<rect x="40.32" y="506.10" width="4.8" height="29.80" fill="#a5842f"/>
<rect x="47.44" y="505.40" width="4.8" height="30.50" fill="#a5842f"/>
<rect x="54.56" y="509.50" width="4.8" height="26.40" fill="#a5842f"/>
<rect x="61.68" y="509.80" width="4.8" height="26.10" fill="#a5842f"/>
<rect x="68.81" y="509.50" width="4.8" height="26.40" fill="#ae9a80"/>
<rect x="75.93" y="510.70" width="4.8" height="25.20" fill="#ae9a80"/>
<rect x="83.05" y="503.90" width="4.8" height="32.00" fill="#ae9a80"/>
<rect x="90.17" y="510.00" width="4.8" height="25.90" fill="#a5842f"/>
<rect x="97.29" y="489.30" width="4.8" height="46.60" fill="#ae9a80"/>
<rect x="104.41" y="497.10" width="4.8" height="38.80" fill="#a5842f"/>
<rect x="111.53" y="488.80" width="4.8" height="47.10" fill="#ae9a80"/>
<rect x="118.65" y="500.00" width="4.8" height="35.90" fill="#a5842f"/>
<rect x="125.77" y="501.00" width="4.8" height="34.90" fill="#ae9a80"/>
<rect x="132.89" y="503.40" width="4.8" height="32.50" fill="#a5842f"/>
<rect x="140.02" y="493.70" width="4.8" height="42.20" fill="#a5842f"/>
<rect x="147.14" y="493.90" width="4.8" height="42.00" fill="#ae9a80"/>
<rect x="154.26" y="498.00" width="4.8" height="37.90" fill="#a5842f"/>
<rect x="161.38" y="504.40" width="4.8" height="31.50" fill="#a5842f"/>
<rect x="168.50" y="519.00" width="4.8" height="16.90" fill="#ae9a80"/>
<rect x="175.62" y="502.90" width="4.8" height="33.00" fill="#a5842f"/>
<rect x="182.74" y="507.80" width="4.8" height="28.10" fill="#ae9a80"/>
<rect x="189.86" y="494.60" width="4.8" height="41.30" fill="#ae9a80"/>
<rect x="196.98" y="504.10" width="4.8" height="31.80" fill="#ae9a80"/>
<rect x="204.10" y="510.70" width="4.8" height="25.20" fill="#ae9a80"/>
<rect x="211.22" y="505.60" width="4.8" height="30.30" fill="#ae9a80"/>
<rect x="218.35" y="508.50" width="4.8" height="27.40" fill="#a5842f"/>
<rect x="225.47" y="513.40" width="4.8" height="22.50" fill="#a5842f"/>
<rect x="232.59" y="507.80" width="4.8" height="28.10" fill="#a5842f"/>
<rect x="239.71" y="496.60" width="4.8" height="39.30" fill="#a5842f"/>
<rect x="246.83" y="508.80" width="4.8" height="27.10" fill="#ae9a80"/>
<rect x="253.95" y="509.80" width="4.8" height="26.10" fill="#a5842f"/>
<rect x="261.07" y="517.60" width="4.8" height="18.30" fill="#ae9a80"/>
<rect x="268.19" y="513.20" width="4.8" height="22.70" fill="#a5842f"/>
<rect x="275.31" y="510.00" width="4.8" height="25.90" fill="#ae9a80"/>
<rect x="282.44" y="502.20" width="4.8" height="33.70" fill="#a5842f"/>
<rect x="289.56" y="506.80" width="4.8" height="29.10" fill="#a5842f"/>
<rect x="296.68" y="513.70" width="4.8" height="22.20" fill="#a5842f"/>
<rect x="303.80" y="519.00" width="4.8" height="16.90" fill="#a5842f"/>
<rect x="310.92" y="514.10" width="4.8" height="21.80" fill="#a5842f"/>
<rect x="318.04" y="515.10" width="4.8" height="20.80" fill="#ae9a80"/>
<rect x="325.16" y="514.60" width="4.8" height="21.30" fill="#a5842f"/>
<rect x="332.28" y="505.90" width="4.8" height="30.00" fill="#a5842f"/>
<rect x="339.40" y="515.10" width="4.8" height="20.80" fill="#a5842f"/>
<rect x="346.52" y="514.60" width="4.8" height="21.30" fill="#a5842f"/>
<rect x="353.65" y="515.10" width="4.8" height="20.80" fill="#a5842f"/>
<rect x="360.77" y="512.20" width="4.8" height="23.70" fill="#a5842f"/>
<rect x="367.89" y="507.10" width="4.8" height="28.80" fill="#ae9a80"/>
<rect x="375.01" y="508.50" width="4.8" height="27.40" fill="#a5842f"/>
<rect x="382.13" y="518.80" width="4.8" height="17.10" fill="#a5842f"/>
<rect x="389.25" y="512.70" width="4.8" height="23.20" fill="#a5842f"/>
<rect x="396.37" y="521.70" width="4.8" height="14.20" fill="#ae9a80"/>
<rect x="403.49" y="515.10" width="4.8" height="20.80" fill="#a5842f"/>
<rect x="410.61" y="510.20" width="4.8" height="25.70" fill="#a5842f"/>
<rect x="417.73" y="517.10" width="4.8" height="18.80" fill="#a5842f"/>
<rect x="424.86" y="511.00" width="4.8" height="24.90" fill="#ae9a80"/>
<rect x="431.98" y="508.50" width="4.8" height="27.40" fill="#ae9a80"/>
<rect x="439.10" y="514.40" width="4.8" height="21.50" fill="#ae9a80"/>
<rect x="446.22" y="515.60" width="4.8" height="20.30" fill="#a5842f"/>
<rect x="453.34" y="513.90" width="4.8" height="22.00" fill="#a5842f"/>
<rect x="460.46" y="510.70" width="4.8" height="25.20" fill="#ae9a80"/>
<rect x="467.58" y="502.90" width="4.8" height="33.00" fill="#ae9a80"/>
<rect x="474.70" y="511.50" width="4.8" height="24.40" fill="#ae9a80"/>
<rect x="481.82" y="512.20" width="4.8" height="23.70" fill="#ae9a80"/>
<rect x="488.94" y="514.40" width="4.8" height="21.50" fill="#a5842f"/>
<rect x="496.07" y="515.90" width="4.8" height="20.00" fill="#a5842f"/>
<rect x="503.19" y="512.00" width="4.8" height="23.90" fill="#ae9a80"/>
<rect x="510.31" y="512.20" width="4.8" height="23.70" fill="#ae9a80"/>
<rect x="517.43" y="510.20" width="4.8" height="25.70" fill="#a5842f"/>
<rect x="524.55" y="511.00" width="4.8" height="24.90" fill="#a5842f"/>
<rect x="531.67" y="513.90" width="4.8" height="22.00" fill="#a5842f"/>
<rect x="538.79" y="523.90" width="4.8" height="12.00" fill="#a5842f"/>
<rect x="545.91" y="517.80" width="4.8" height="18.10" fill="#a5842f"/>
<rect x="553.03" y="515.10" width="4.8" height="20.80" fill="#a5842f"/>
<rect x="560.15" y="504.90" width="4.8" height="31.00" fill="#a5842f"/>
<rect x="567.28" y="516.80" width="4.8" height="19.10" fill="#ae9a80"/>
<rect x="574.40" y="522.90" width="4.8" height="13.00" fill="#ae9a80"/>
<rect x="581.52" y="513.20" width="4.8" height="22.70" fill="#ae9a80"/>
<rect x="588.64" y="516.30" width="4.8" height="19.60" fill="#a5842f"/>
<rect x="595.76" y="514.60" width="4.8" height="21.30" fill="#a5842f"/>
<rect x="602.88" y="514.60" width="4.8" height="21.30" fill="#a5842f"/>
<rect x="610.00" y="509.00" width="4.8" height="26.90" fill="#ae9a80"/>
<rect x="617.12" y="514.90" width="4.8" height="21.00" fill="#a5842f"/>
<rect x="624.24" y="513.70" width="4.8" height="22.20" fill="#ae9a80"/>
<rect x="631.36" y="519.80" width="4.8" height="16.10" fill="#a5842f"/>
<rect x="638.49" y="506.80" width="4.8" height="29.10" fill="#ae9a80"/>
<rect x="645.61" y="503.90" width="4.8" height="32.00" fill="#ae9a80"/>
<rect x="652.73" y="505.90" width="4.8" height="30.00" fill="#ae9a80"/>
<rect x="659.85" y="506.10" width="4.8" height="29.80" fill="#ae9a80"/>
<rect x="666.97" y="516.30" width="4.8" height="19.60" fill="#a5842f"/>
<rect x="674.09" y="516.10" width="4.8" height="19.80" fill="#ae9a80"/>
<rect x="681.21" y="509.50" width="4.8" height="26.40" fill="#a5842f"/>
<rect x="688.33" y="510.50" width="4.8" height="25.40" fill="#ae9a80"/>
<rect x="695.45" y="515.90" width="4.8" height="20.00" fill="#a5842f"/>
<rect x="702.57" y="499.50" width="4.8" height="36.40" fill="#a5842f"/>
<rect x="709.70" y="511.20" width="4.8" height="24.70" fill="#a5842f"/>
<rect x="716.82" y="512.00" width="4.8" height="23.90" fill="#a5842f"/>
<rect x="723.94" y="518.80" width="4.8" height="17.10" fill="#a5842f"/>
<rect x="731.06" y="517.10" width="4.8" height="18.80" fill="#a5842f"/>
<rect x="738.18" y="515.90" width="4.8" height="20.00" fill="#a5842f"/>
<rect x="745.30" y="483.90" width="4.8" height="52.00" fill="#a5842f"/>
<rect x="752.42" y="494.40" width="4.8" height="41.50" fill="#ae9a80"/>
<rect x="759.54" y="508.30" width="4.8" height="27.60" fill="#a5842f"/>
<rect x="766.66" y="518.00" width="4.8" height="17.90" fill="#a5842f"/>
<rect x="773.78" y="512.20" width="4.8" height="23.70" fill="#a5842f"/>
<rect x="780.91" y="512.90" width="4.8" height="23.00" fill="#ae9a80"/>
<rect x="788.03" y="531.00" width="4.8" height="4.90" fill="#ae9a80"/>
</g>
<text x="729.8" y="118.6" class="ax" text-anchor="end" fill="#8a7f84">237.230</text>
<circle cx="732.4" cy="115.4" r="1.3" fill="#9a8d92"/><line x1="732.4" y1="115.4" x2="783.3" y2="115.4" stroke="#9a8d92" stroke-width="1"/>
<line x1="213.6" y1="433.4" x2="264.3" y2="433.4" stroke="#9a8d92" stroke-width="1"/><circle cx="264.3" cy="433.4" r="1.3" fill="#9a8d92"/>
 <text x="267.9" y="436.7" class="ax" fill="#8a7f84">124.170</text></g></g>
<g clip-path="url(#cell4)"><g transform="translate(816.54,631.02) scale(1.0034)"><rect x="37.6" y="39" width="52.2" height="32.5" rx="9" fill="#f4f4f4"/>
<text x="63.7" y="60.2" class="bt" text-anchor="middle" fill="#404040">分时</text>
<rect x="106.6" y="39" width="52.1" height="32.5" rx="9" fill="#f4f4f4"/>
<text x="132.7" y="60.2" class="bt" text-anchor="middle" fill="#404040">五日</text>
<rect x="175.7" y="39" width="47.0" height="32.5" rx="9" fill="#f4f4f4"/>
<text x="199.2" y="60.2" class="bt" text-anchor="middle" fill="#404040">日K</text>
<rect x="240.0" y="39" width="47.0" height="32.5" rx="9" fill="#eeeeee"/>
<text x="263.5" y="60.2" class="bt" text-anchor="middle" fill="#666666">周K</text>
<rect x="304.0" y="39" width="47.0" height="32.5" rx="9" fill="#f4f4f4"/>
<text x="327.5" y="60.2" class="bt" text-anchor="middle" fill="#404040">月K</text>
<rect x="368.0" y="39" width="67.0" height="32.5" rx="9" fill="#f4f4f4"/>
<text x="380.0" y="60.2" class="bt" fill="#404040">更多</text>
<path d="M411.0,53.6 l4.6,4.4 l4.6,-4.4" fill="none" stroke="#7c7c7c" stroke-width="1.05"/>
<path d="M630,49.6 h-2.3 v11.6 h2.3 M638.9,49.6 h2.3 v11.6 h-2.3" fill="none" stroke="#333" stroke-width="1.5"/>
<path d="M631.3,56.6 l2,-2.4 l1.9,1.9 l2.2,-2.6" fill="none" stroke="#333" stroke-width="1.3" stroke-linejoin="round"/>
<text x="704.5" y="60.2" class="bt" text-anchor="end" fill="#474747">区间统计</text>
<path d="M716.5,52 v-2 q0,-1.5 1.5,-1.5 h2 M726.5,48.5 h2 q1.5,0 1.5,1.5 v2 M730,58.5 v2 q0,1.5 -1.5,1.5 h-2 M720,62 h-2 q-1.5,0 -1.5,-1.5 v-2" fill="none" stroke="#333" stroke-width="1.3"/>
<rect x="720.3" y="52" width="6" height="6.2" fill="none" stroke="#333" stroke-width="1.3"/>
<text x="793" y="60.2" class="bt" text-anchor="end" fill="#474747">超级视图</text>
<text x="37.6" y="92.3" class="sm" fill="#474747">均线</text>
<text x="70.2" y="92.3" class="ma" fill="#a9a9a9">MA5 223.246</text>
<text x="166" y="92.3" class="ma" fill="#555555">MA10 211.533</text>
<text x="270" y="92.3" class="ma" fill="#555555">MA20 193.422</text>
<text x="793" y="92.3" class="sm" text-anchor="end" fill="#474747">不复权</text>
<rect x="37.5" y="106.8" width="756.5" height="1" fill="#f3f3f3"/>
<rect x="37.5" y="189.7" width="756.5" height="1" fill="#f3f3f3"/>
<rect x="37.5" y="273.9" width="756.5" height="1" fill="#f3f3f3"/>
<rect x="37.5" y="357.9" width="756.5" height="1" fill="#f3f3f3"/>
<rect x="37.5" y="441.9" width="756.5" height="1" fill="#f3f3f3"/>
<rect x="37.5" y="469.0" width="756.5" height="1" fill="#f3f3f3"/>
<rect x="56.8" y="107.3" width="1" height="336" fill="#f3f3f3"/>
<rect x="149.1" y="107.3" width="1" height="336" fill="#f3f3f3"/>
<rect x="241.5" y="107.3" width="1" height="336" fill="#f3f3f3"/>
<rect x="334.1" y="107.3" width="1" height="336" fill="#f3f3f3"/>
<rect x="426.8" y="107.3" width="1" height="336" fill="#f3f3f3"/>
<rect x="519.3" y="107.3" width="1" height="336" fill="#f3f3f3"/>
<rect x="611.9" y="107.3" width="1" height="336" fill="#f3f3f3"/>
<rect x="704.5" y="107.3" width="1" height="336" fill="#f3f3f3"/>
<text x="38" y="120.6" class="ax" fill="#7a7a7a">237.230</text>
<text x="38" y="278" class="ax" fill="#7a7a7a">180.700</text>
<clipPath id="cpd"><rect x="37.5" y="100" width="756.5" height="440"/></clipPath>
<g clip-path="url(#cpd)">
<circle cx="49.8" cy="438.4" r="3.1" fill="#777777"/>
<circle cx="142.4" cy="438.4" r="3.1" fill="#777777"/>
<circle cx="242.1" cy="438.4" r="3.1" fill="#777777"/>
<circle cx="334.7" cy="438.4" r="3.1" fill="#777777"/>
<circle cx="427.3" cy="438.4" r="3.1" fill="#777777"/>
<circle cx="519.8" cy="438.4" r="3.1" fill="#777777"/>
<circle cx="612.4" cy="438.4" r="3.1" fill="#777777"/>
<circle cx="705.0" cy="438.4" r="3.1" fill="#777777"/>
<text x="38" y="439.6" class="ax" fill="#7a7a7a">124.170</text>
<line x1="37.5" y1="151.4" x2="794" y2="151.4" stroke="#9a9a9a" stroke-width="1.2" stroke-dasharray="4,2.12"/>
<text x="57.3" y="462" class="ax" text-anchor="middle" fill="#7a7a7a">2022-08</text>
<text x="149.6" y="462" class="ax" text-anchor="middle" fill="#7a7a7a">2022-11</text>
<text x="242.0" y="462" class="ax" text-anchor="middle" fill="#7a7a7a">2023-02</text>
<text x="334.6" y="462" class="ax" text-anchor="middle" fill="#7a7a7a">2023-05</text>
<text x="427.3" y="462" class="ax" text-anchor="middle" fill="#7a7a7a">2023-08</text>
<text x="519.8" y="462" class="ax" text-anchor="middle" fill="#7a7a7a">2023-11</text>
<text x="612.4" y="462" class="ax" text-anchor="middle" fill="#7a7a7a">2024-02</text>
<text x="705.0" y="462" class="ax" text-anchor="middle" fill="#7a7a7a">2024-05</text>
<rect x="35.05" y="358.00" width="1.1" height="16.00" fill="#6e6e6e"/>
<rect x="33.10" y="360.00" width="5" height="12.50" fill="#6e6e6e"/>
<rect x="42.17" y="343.10" width="1.1" height="26.60" fill="#6e6e6e"/>
<rect x="40.22" y="349.20" width="5" height="8.70" fill="#6e6e6e"/>
<rect x="49.29" y="322.30" width="1.1" height="35.60" fill="#6e6e6e"/>
<rect x="47.34" y="325.40" width="5" height="23.50" fill="#6e6e6e"/>
<rect x="56.41" y="312.20" width="1.1" height="20.80" fill="#6e6e6e"/>
<rect x="54.46" y="317.80" width="5" height="11.70" fill="#6e6e6e"/>
<rect x="63.53" y="298.40" width="1.1" height="24.20" fill="#6e6e6e"/>
<rect x="61.58" y="298.40" width="5" height="15.90" fill="#6e6e6e"/>
<rect x="70.66" y="287.30" width="1.1" height="14.30" fill="#6e6e6e"/>
<rect x="68.71" y="299.80" width="5" height="1.80" fill="#6e6e6e"/>
<rect x="77.78" y="301.60" width="1.1" height="20.70" fill="#6e6e6e"/>
<rect x="75.83" y="305.30" width="5" height="17.00" fill="#6e6e6e"/>
<rect x="84.90" y="324.30" width="1.1" height="23.00" fill="#6e6e6e"/>
<rect x="82.95" y="329.30" width="5" height="14.80" fill="#6e6e6e"/>
<rect x="92.02" y="338.50" width="1.1" height="14.60" fill="#6e6e6e"/>
<rect x="90.07" y="340.20" width="5" height="1.80" fill="#6e6e6e"/>
<rect x="99.14" y="321.00" width="1.1" height="43.80" fill="#6e6e6e"/>
<rect x="97.19" y="334.00" width="5" height="24.30" fill="#6e6e6e"/>
<rect x="106.26" y="336.20" width="1.1" height="27.90" fill="#6e6e6e"/>
<rect x="104.31" y="359.70" width="5" height="3.30" fill="#6e6e6e"/>
<rect x="113.38" y="347.50" width="1.1" height="46.10" fill="#6e6e6e"/>
<rect x="111.43" y="361.40" width="5" height="32.20" fill="#6e6e6e"/>
<rect x="120.50" y="368.60" width="1.1" height="26.00" fill="#6e6e6e"/>
<rect x="118.55" y="388.40" width="5" height="5.50" fill="#6e6e6e"/>
<rect x="127.62" y="376.30" width="1.1" height="28.00" fill="#6e6e6e"/>
<rect x="125.67" y="387.70" width="5" height="4.80" fill="#6e6e6e"/>
<rect x="134.74" y="366.50" width="1.1" height="21.20" fill="#6e6e6e"/>
<rect x="132.79" y="367.60" width="5" height="18.00" fill="#6e6e6e"/>
<rect x="141.87" y="339.20" width="1.1" height="37.40" fill="#6e6e6e"/>
<rect x="139.92" y="344.50" width="5" height="23.80" fill="#6e6e6e"/>
<rect x="148.99" y="345.20" width="1.1" height="59.10" fill="#6e6e6e"/>
<rect x="147.04" y="352.00" width="5" height="40.80" fill="#6e6e6e"/>
<rect x="156.11" y="360.70" width="1.1" height="42.90" fill="#6e6e6e"/>
<rect x="154.16" y="361.40" width="5" height="35.30" fill="#6e6e6e"/>
<rect x="163.23" y="350.00" width="1.1" height="21.00" fill="#6e6e6e"/>
<rect x="161.28" y="357.00" width="5" height="6.00" fill="#6e6e6e"/>
<rect x="170.35" y="355.60" width="1.1" height="13.40" fill="#6e6e6e"/>
<rect x="168.40" y="360.00" width="5" height="5.20" fill="#6e6e6e"/>
<rect x="177.47" y="363.00" width="1.1" height="24.70" fill="#6e6e6e"/>
<rect x="175.52" y="366.90" width="5" height="6.70" fill="#6e6e6e"/>
<rect x="184.59" y="358.00" width="1.1" height="30.40" fill="#6e6e6e"/>
<rect x="182.64" y="366.90" width="5" height="15.20" fill="#6e6e6e"/>
<rect x="191.71" y="360.70" width="1.1" height="45.70" fill="#6e6e6e"/>
<rect x="189.76" y="380.80" width="5" height="23.20" fill="#6e6e6e"/>
<rect x="198.83" y="398.00" width="1.1" height="19.40" fill="#6e6e6e"/>
<rect x="196.88" y="402.60" width="5" height="8.60" fill="#6e6e6e"/>
<rect x="205.95" y="413.30" width="1.1" height="14.50" fill="#6e6e6e"/>
<rect x="204.00" y="413.30" width="5" height="3.20" fill="#6e6e6e"/>
<rect x="213.07" y="414.70" width="1.1" height="18.70" fill="#6e6e6e"/>
<rect x="211.12" y="416.50" width="5" height="1.20" fill="#6e6e6e"/>
<rect x="220.20" y="402.90" width="1.1" height="18.70" fill="#6e6e6e"/>
<rect x="218.25" y="403.60" width="5" height="11.10" fill="#6e6e6e"/>
<rect x="227.32" y="392.50" width="1.1" height="13.20" fill="#6e6e6e"/>
<rect x="225.37" y="394.90" width="5" height="8.00" fill="#6e6e6e"/>
<rect x="234.44" y="368.60" width="1.1" height="25.30" fill="#6e6e6e"/>
<rect x="232.49" y="372.20" width="5" height="21.00" fill="#6e6e6e"/>
<rect x="241.56" y="340.10" width="1.1" height="44.30" fill="#6e6e6e"/>
<rect x="239.61" y="348.00" width="5" height="26.30" fill="#6e6e6e"/>
<rect x="248.68" y="346.20" width="1.1" height="16.40" fill="#6e6e6e"/>
<rect x="246.73" y="353.40" width="5" height="3.80" fill="#6e6e6e"/>
<rect x="255.80" y="342.80" width="1.1" height="15.20" fill="#6e6e6e"/>
<rect x="253.85" y="353.80" width="5" height="3.70" fill="#6e6e6e"/>
<rect x="262.92" y="357.20" width="1.1" height="15.20" fill="#6e6e6e"/>
<rect x="260.97" y="359.70" width="5" height="10.20" fill="#6e6e6e"/>
<rect x="270.04" y="357.20" width="1.1" height="19.40" fill="#6e6e6e"/>
<rect x="268.09" y="358.00" width="5" height="8.50" fill="#6e6e6e"/>
<rect x="277.16" y="342.80" width="1.1" height="23.70" fill="#6e6e6e"/>
<rect x="275.21" y="350.00" width="5" height="14.80" fill="#6e6e6e"/>
<rect x="284.29" y="341.60" width="1.1" height="25.70" fill="#6e6e6e"/>
<rect x="282.34" y="346.20" width="5" height="20.30" fill="#6e6e6e"/>
<rect x="291.41" y="326.40" width="1.1" height="22.30" fill="#6e6e6e"/>
<rect x="289.46" y="331.80" width="5" height="15.20" fill="#6e6e6e"/>
<rect x="298.53" y="318.20" width="1.1" height="24.60" fill="#6e6e6e"/>
<rect x="296.58" y="318.60" width="5" height="13.50" fill="#6e6e6e"/>
<rect x="305.65" y="312.80" width="1.1" height="13.90" fill="#6e6e6e"/>
<rect x="303.70" y="319.00" width="5" height="1.80" fill="#6e6e6e"/>
<rect x="312.77" y="314.80" width="1.1" height="17.80" fill="#6e6e6e"/>
<rect x="310.82" y="318.20" width="5" height="9.30" fill="#6e6e6e"/>
<rect x="319.89" y="309.40" width="1.1" height="10.20" fill="#6e6e6e"/>
<rect x="317.94" y="317.90" width="5" height="1.70" fill="#6e6e6e"/>
<rect x="327.01" y="304.70" width="1.1" height="19.50" fill="#6e6e6e"/>
<rect x="325.06" y="305.50" width="5" height="11.90" fill="#6e6e6e"/>
<rect x="334.13" y="292.50" width="1.1" height="27.40" fill="#6e6e6e"/>
<rect x="332.18" y="294.20" width="5" height="11.30" fill="#6e6e6e"/>
<rect x="341.25" y="291.50" width="1.1" height="9.80" fill="#6e6e6e"/>
<rect x="339.30" y="297.10" width="5" height="1.70" fill="#6e6e6e"/>
<rect x="348.37" y="286.90" width="1.1" height="15.30" fill="#6e6e6e"/>
<rect x="346.42" y="290.00" width="5" height="4.90" fill="#6e6e6e"/>
<rect x="355.50" y="288.60" width="1.1" height="14.10" fill="#6e6e6e"/>
<rect x="353.55" y="289.10" width="5" height="3.70" fill="#6e6e6e"/>
<rect x="362.62" y="271.70" width="1.1" height="13.50" fill="#6e6e6e"/>
<rect x="360.67" y="273.40" width="5" height="11.30" fill="#6e6e6e"/>
<rect x="369.74" y="262.40" width="1.1" height="21.10" fill="#6e6e6e"/>
<rect x="367.79" y="269.20" width="5" height="3.70" fill="#6e6e6e"/>
<rect x="376.86" y="256.50" width="1.1" height="16.90" fill="#6e6e6e"/>
<rect x="374.91" y="262.70" width="5" height="9.80" fill="#6e6e6e"/>
<rect x="383.98" y="255.30" width="1.1" height="13.50" fill="#6e6e6e"/>
<rect x="382.03" y="257.60" width="5" height="6.10" fill="#6e6e6e"/>
<rect x="391.10" y="235.60" width="1.1" height="25.10" fill="#6e6e6e"/>
<rect x="389.15" y="237.00" width="5" height="19.50" fill="#6e6e6e"/>
<rect x="398.22" y="237.00" width="1.1" height="13.20" fill="#6e6e6e"/>
<rect x="396.27" y="237.80" width="5" height="7.70" fill="#6e6e6e"/>
<rect x="405.34" y="244.10" width="1.1" height="13.20" fill="#6e6e6e"/>
<rect x="403.39" y="246.30" width="5" height="2.20" fill="#6e6e6e"/>
<rect x="412.46" y="225.20" width="1.1" height="18.90" fill="#6e6e6e"/>
<rect x="410.51" y="242.90" width="5" height="1.20" fill="#6e6e6e"/>
<rect x="419.58" y="228.20" width="1.1" height="12.20" fill="#6e6e6e"/>
<rect x="417.63" y="231.90" width="5" height="6.50" fill="#6e6e6e"/>
<rect x="426.71" y="229.40" width="1.1" height="41.10" fill="#6e6e6e"/>
<rect x="424.76" y="231.10" width="5" height="39.40" fill="#6e6e6e"/>
<rect x="433.83" y="267.80" width="1.1" height="17.90" fill="#6e6e6e"/>
<rect x="431.88" y="270.00" width="5" height="11.30" fill="#6e6e6e"/>
<rect x="440.95" y="278.00" width="1.1" height="20.80" fill="#6e6e6e"/>
<rect x="439.00" y="282.40" width="5" height="9.10" fill="#6e6e6e"/>
<rect x="448.07" y="272.20" width="1.1" height="21.30" fill="#6e6e6e"/>
<rect x="446.12" y="280.30" width="5" height="9.30" fill="#6e6e6e"/>
<rect x="455.19" y="248.20" width="1.1" height="31.30" fill="#6e6e6e"/>
<rect x="453.24" y="249.40" width="5" height="25.90" fill="#6e6e6e"/>
<rect x="462.31" y="248.20" width="1.1" height="45.70" fill="#6e6e6e"/>
<rect x="460.36" y="253.30" width="5" height="27.60" fill="#6e6e6e"/>
<rect x="469.43" y="275.80" width="1.1" height="18.10" fill="#6e6e6e"/>
<rect x="467.48" y="276.50" width="5" height="13.20" fill="#6e6e6e"/>
<rect x="476.55" y="277.80" width="1.1" height="15.30" fill="#6e6e6e"/>
<rect x="474.60" y="286.30" width="5" height="4.20" fill="#6e6e6e"/>
<rect x="483.67" y="285.50" width="1.1" height="25.30" fill="#6e6e6e"/>
<rect x="481.72" y="292.70" width="5" height="8.00" fill="#6e6e6e"/>
<rect x="490.79" y="282.10" width="1.1" height="19.40" fill="#6e6e6e"/>
<rect x="488.84" y="283.30" width="5" height="17.40" fill="#6e6e6e"/>
<rect x="497.92" y="269.70" width="1.1" height="18.30" fill="#6e6e6e"/>
<rect x="495.97" y="279.50" width="5" height="4.80" fill="#6e6e6e"/>
<rect x="505.04" y="279.20" width="1.1" height="17.60" fill="#6e6e6e"/>
<rect x="503.09" y="285.50" width="5" height="10.60" fill="#6e6e6e"/>
<rect x="512.16" y="293.90" width="1.1" height="22.50" fill="#6e6e6e"/>
<rect x="510.21" y="301.90" width="5" height="7.30" fill="#6e6e6e"/>
<rect x="519.28" y="282.60" width="1.1" height="27.40" fill="#6e6e6e"/>
<rect x="517.33" y="286.30" width="5" height="20.70" fill="#6e6e6e"/>
<rect x="526.40" y="258.40" width="1.1" height="29.30" fill="#6e6e6e"/>
<rect x="524.45" y="258.40" width="5" height="28.80" fill="#6e6e6e"/>
<rect x="533.52" y="245.40" width="1.1" height="18.90" fill="#6e6e6e"/>
<rect x="531.57" y="249.10" width="5" height="10.50" fill="#6e6e6e"/>
<rect x="540.64" y="239.80" width="1.1" height="10.10" fill="#6e6e6e"/>
<rect x="538.69" y="248.20" width="5" height="1.70" fill="#6e6e6e"/>
<rect x="547.76" y="242.30" width="1.1" height="10.50" fill="#6e6e6e"/>
<rect x="545.81" y="244.80" width="5" height="3.40" fill="#6e6e6e"/>
<rect x="554.88" y="231.30" width="1.1" height="23.70" fill="#6e6e6e"/>
<rect x="552.93" y="232.20" width="5" height="15.20" fill="#6e6e6e"/>
<rect x="562.00" y="221.20" width="1.1" height="22.50" fill="#6e6e6e"/>
<rect x="560.05" y="226.70" width="5" height="12.20" fill="#6e6e6e"/>
<rect x="569.13" y="226.20" width="1.1" height="13.60" fill="#6e6e6e"/>
<rect x="567.18" y="231.30" width="5" height="6.30" fill="#6e6e6e"/>
<rect x="576.25" y="235.20" width="1.1" height="9.60" fill="#6e6e6e"/>
<rect x="574.30" y="238.10" width="5" height="2.50" fill="#6e6e6e"/>
<rect x="583.37" y="252.80" width="1.1" height="23.00" fill="#6e6e6e"/>
<rect x="581.42" y="256.20" width="5" height="16.60" fill="#6e6e6e"/>
<rect x="590.49" y="256.70" width="1.1" height="14.70" fill="#6e6e6e"/>
<rect x="588.54" y="259.60" width="5" height="10.10" fill="#6e6e6e"/>
<rect x="597.61" y="242.60" width="1.1" height="32.20" fill="#6e6e6e"/>
<rect x="595.66" y="243.70" width="5" height="26.00" fill="#6e6e6e"/>
<rect x="604.73" y="230.10" width="1.1" height="13.60" fill="#6e6e6e"/>
<rect x="602.78" y="241.00" width="5" height="1.60" fill="#6e6e6e"/>
<rect x="611.85" y="242.00" width="1.1" height="36.20" fill="#6e6e6e"/>
<rect x="609.90" y="242.30" width="5" height="17.30" fill="#6e6e6e"/>
<rect x="618.97" y="245.40" width="1.1" height="14.20" fill="#6e6e6e"/>
<rect x="617.02" y="251.60" width="5" height="1.20" fill="#6e6e6e"/>
<rect x="626.09" y="252.50" width="1.1" height="19.90" fill="#6e6e6e"/>
<rect x="624.14" y="253.30" width="5" height="16.10" fill="#6e6e6e"/>
<rect x="633.21" y="262.30" width="1.1" height="13.90" fill="#6e6e6e"/>
<rect x="631.26" y="269.00" width="5" height="1.70" fill="#6e6e6e"/>
<rect x="640.34" y="266.30" width="1.1" height="17.50" fill="#6e6e6e"/>
<rect x="638.39" y="270.20" width="5" height="6.30" fill="#6e6e6e"/>
<rect x="647.46" y="285.20" width="1.1" height="22.90" fill="#6e6e6e"/>
<rect x="645.51" y="287.00" width="5" height="14.80" fill="#6e6e6e"/>
<rect x="654.58" y="292.20" width="1.1" height="11.40" fill="#6e6e6e"/>
<rect x="652.63" y="296.80" width="5" height="1.20" fill="#6e6e6e"/>
<rect x="661.70" y="280.20" width="1.1" height="23.60" fill="#6e6e6e"/>
<rect x="659.75" y="288.90" width="5" height="8.90" fill="#6e6e6e"/>
<rect x="668.82" y="295.50" width="1.1" height="9.70" fill="#6e6e6e"/>
<rect x="666.87" y="299.90" width="5" height="2.70" fill="#6e6e6e"/>
<rect x="675.94" y="299.00" width="1.1" height="9.40" fill="#6e6e6e"/>
<rect x="673.99" y="300.80" width="5" height="4.40" fill="#6e6e6e"/>
<rect x="683.06" y="281.30" width="1.1" height="30.10" fill="#6e6e6e"/>
<rect x="681.11" y="285.70" width="5" height="20.40" fill="#6e6e6e"/>
<rect x="690.18" y="285.70" width="1.1" height="34.50" fill="#6e6e6e"/>
<rect x="688.23" y="289.30" width="5" height="28.60" fill="#6e6e6e"/>
<rect x="697.30" y="300.80" width="1.1" height="17.70" fill="#6e6e6e"/>
<rect x="695.35" y="306.10" width="5" height="10.60" fill="#6e6e6e"/>
<rect x="704.42" y="256.60" width="1.1" height="49.50" fill="#6e6e6e"/>
<rect x="702.47" y="267.20" width="5" height="27.40" fill="#6e6e6e"/>
<rect x="711.55" y="261.90" width="1.1" height="13.20" fill="#6e6e6e"/>
<rect x="709.60" y="267.20" width="5" height="2.60" fill="#6e6e6e"/>
<rect x="718.67" y="245.40" width="1.1" height="17.30" fill="#6e6e6e"/>
<rect x="716.72" y="248.60" width="5" height="12.40" fill="#6e6e6e"/>
<rect x="725.79" y="240.60" width="1.1" height="16.50" fill="#6e6e6e"/>
<rect x="723.84" y="247.70" width="5" height="2.30" fill="#6e6e6e"/>
<rect x="732.91" y="239.70" width="1.1" height="10.70" fill="#6e6e6e"/>
<rect x="730.96" y="241.50" width="5" height="1.80" fill="#6e6e6e"/>
<rect x="740.03" y="228.80" width="1.1" height="12.40" fill="#6e6e6e"/>
<rect x="738.08" y="228.80" width="5" height="11.30" fill="#6e6e6e"/>
<rect x="747.15" y="162.80" width="1.1" height="78.70" fill="#6e6e6e"/>
<rect x="745.20" y="184.90" width="5" height="43.90" fill="#6e6e6e"/>
<rect x="754.27" y="166.90" width="1.1" height="33.00" fill="#6e6e6e"/>
<rect x="752.32" y="182.30" width="5" height="16.40" fill="#6e6e6e"/>
<rect x="761.39" y="175.20" width="1.1" height="26.00" fill="#6e6e6e"/>
<rect x="759.44" y="190.20" width="5" height="7.10" fill="#6e6e6e"/>
<rect x="768.51" y="146.00" width="1.1" height="39.80" fill="#6e6e6e"/>
<rect x="766.56" y="146.30" width="5" height="39.50" fill="#6e6e6e"/>
<rect x="775.63" y="126.90" width="1.1" height="27.60" fill="#6e6e6e"/>
<rect x="773.68" y="134.00" width="5" height="9.30" fill="#6e6e6e"/>
<rect x="782.76" y="115.50" width="1.1" height="41.50" fill="#6e6e6e"/>
<rect x="780.81" y="117.30" width="5" height="34.00" fill="#6e6e6e"/>
<rect x="789.88" y="142.10" width="1.1" height="12.70" fill="#6e6e6e"/>
<rect x="787.93" y="144.20" width="5" height="7.10" fill="#6e6e6e"/>
<polyline points="35.60,351.40 42.72,351.82 49.84,351.08 56.96,350.90 64.08,350.99 71.21,351.64 78.33,352.90 85.45,354.23 92.57,354.79 99.69,355.83 106.81,356.29 113.93,357.58 121.05,357.57 128.17,358.67 135.29,357.79 142.42,355.15 149.54,355.32 156.66,353.81 163.78,352.05 170.90,352.00 178.02,352.34 185.14,353.99 192.26,357.92 199.38,362.59 206.50,368.50 213.62,374.28 220.75,378.35 227.87,380.89 234.99,382.49 242.11,381.98 249.23,381.85 256.35,379.86 263.47,378.93 270.59,377.21 277.71,377.07 284.84,377.15 291.96,374.11 299.08,371.97 306.20,370.07 313.32,367.72 320.44,365.35 327.56,361.52 334.68,356.03 341.80,350.33 348.92,344.00 356.05,337.58 363.17,331.07 370.29,324.98 377.41,319.50 384.53,314.98 391.65,308.97 398.77,303.56 405.89,297.38 413.01,291.62 420.13,284.97 427.26,281.19 434.38,278.67 441.50,277.31 448.62,275.38 455.74,271.94 462.86,270.00 469.98,269.21 477.10,269.02 484.22,269.20 491.34,268.87 498.47,268.39 505.59,269.52 512.71,271.34 519.83,272.52 526.95,272.56 534.07,273.17 541.19,273.30 548.31,273.23 555.43,272.69 562.55,272.43 569.68,270.78 576.80,268.75 583.92,267.82 591.04,266.78 598.16,266.50 605.28,264.50 612.40,263.00 619.52,261.05 626.64,259.49 633.76,258.77 640.89,258.62 648.01,258.90 655.13,258.34 662.25,258.91 669.37,260.99 676.49,263.79 683.61,265.67 690.73,269.32 697.85,273.01 704.97,275.04 712.10,276.52 719.22,276.92 726.34,275.66 733.46,274.76 740.58,274.01 747.70,271.21 754.82,268.16 761.94,265.09 769.06,258.94 776.18,252.19 783.31,245.93 790.43,238.41" fill="none" stroke="#777777" stroke-width="1.1" stroke-linejoin="round"/>
<polyline points="35.60,380.88 42.72,379.02 49.84,372.70 56.96,367.43 64.08,358.74 71.21,349.18 78.33,342.47 85.45,337.73 92.57,332.52 99.69,331.73 106.81,331.70 113.93,336.14 121.05,342.44 128.17,349.91 135.29,356.83 142.42,361.12 149.54,368.17 156.66,369.90 163.78,371.58 170.90,372.27 178.02,372.99 185.14,371.84 192.26,373.40 199.38,375.27 206.50,380.16 213.62,387.45 220.75,388.53 227.87,391.88 234.99,393.40 242.11,391.68 249.23,390.71 256.35,387.88 263.47,384.47 270.59,379.15 277.71,373.98 284.84,366.86 291.96,359.68 299.08,352.05 306.20,346.73 313.32,343.75 320.44,339.99 327.56,335.16 334.68,327.59 341.80,321.50 348.92,314.02 356.05,308.31 363.17,302.47 370.29,297.90 377.41,292.27 384.53,286.21 391.65,277.95 398.77,271.95 405.89,267.16 413.01,261.74 420.13,255.93 427.26,254.07 434.38,254.86 441.50,256.72 448.62,258.48 455.74,257.66 462.86,262.05 469.98,266.47 477.10,270.89 484.22,276.67 491.34,281.81 498.47,282.71 505.59,284.19 512.71,285.96 519.83,286.56 526.95,287.46 534.07,284.28 541.19,280.13 548.31,275.56 555.43,268.71 562.55,263.05 569.68,258.86 576.80,253.31 583.92,249.67 591.04,247.00 598.16,245.53 605.28,244.72 612.40,245.86 619.52,246.54 626.64,250.26 633.76,254.49 640.89,258.38 648.01,264.50 655.13,267.00 662.25,270.82 669.37,276.44 676.49,282.86 683.61,285.47 690.73,292.10 697.85,295.77 704.97,295.59 712.10,294.66 719.22,289.34 726.34,284.33 733.46,278.70 740.58,271.59 747.70,259.56 754.82,250.86 761.94,238.09 769.06,222.11 776.18,208.79 783.31,197.20 790.43,187.47" fill="none" stroke="#858585" stroke-width="1.1" stroke-linejoin="round"/>
<polyline points="35.60,379.88 42.72,371.84 49.84,358.61 56.96,343.72 64.08,330.16 71.21,318.48 78.33,313.10 85.45,316.84 92.57,321.32 99.69,333.30 106.81,344.92 113.93,359.18 121.05,368.04 128.17,378.50 135.29,380.36 142.42,377.32 149.54,377.16 156.66,371.76 163.78,364.66 170.90,364.18 178.02,368.66 185.14,366.52 192.26,375.04 199.38,385.88 206.50,396.14 213.62,406.24 220.75,410.54 227.87,408.72 234.99,400.92 242.11,387.22 249.23,375.18 256.35,365.22 263.47,360.22 270.59,357.38 277.71,360.74 284.84,358.54 291.96,354.14 299.08,343.88 306.20,336.08 313.32,326.76 320.44,321.44 327.56,316.18 334.68,311.30 341.80,306.92 348.92,301.28 356.05,295.18 363.17,288.76 370.29,284.50 377.41,277.62 384.53,271.14 391.65,260.72 398.77,255.14 405.89,249.82 413.01,245.86 420.13,240.72 427.26,247.42 434.38,254.58 441.50,263.62 448.62,271.10 455.74,274.60 462.86,276.68 469.98,278.36 477.10,278.16 484.22,282.24 491.34,289.02 498.47,288.74 505.59,290.02 512.71,293.76 519.83,290.88 526.95,285.90 534.07,279.82 541.19,270.24 548.31,257.36 555.43,246.54 562.55,240.20 569.68,237.90 576.80,236.38 583.92,241.98 591.04,247.46 598.16,250.86 605.28,251.54 612.40,255.34 619.52,251.10 626.64,253.06 633.76,258.12 640.89,265.22 648.01,273.66 655.13,282.90 662.25,288.58 669.37,294.76 676.49,300.50 683.61,297.28 690.73,301.30 697.85,302.96 704.97,296.42 712.10,288.82 719.22,281.40 726.34,267.36 733.46,254.44 740.58,246.76 747.70,230.30 754.82,220.32 761.94,208.82 769.06,189.78 776.18,170.82 783.31,164.10 790.43,154.62" fill="none" stroke="#b0b0b0" stroke-width="1.1" stroke-linejoin="round"/>
<text x="37.8" y="484.8" class="vl" fill="#7a7a7a">成交量884.60万股</text>
<rect x="33.20" y="505.90" width="4.8" height="30.00" fill="#6e6e6e"/>
<rect x="40.32" y="506.10" width="4.8" height="29.80" fill="#6e6e6e"/>
<rect x="47.44" y="505.40" width="4.8" height="30.50" fill="#6e6e6e"/>
<rect x="54.56" y="509.50" width="4.8" height="26.40" fill="#6e6e6e"/>
<rect x="61.68" y="509.80" width="4.8" height="26.10" fill="#6e6e6e"/>
<rect x="68.81" y="509.50" width="4.8" height="26.40" fill="#6e6e6e"/>
<rect x="75.93" y="510.70" width="4.8" height="25.20" fill="#6e6e6e"/>
<rect x="83.05" y="503.90" width="4.8" height="32.00" fill="#6e6e6e"/>
<rect x="90.17" y="510.00" width="4.8" height="25.90" fill="#6e6e6e"/>
<rect x="97.29" y="489.30" width="4.8" height="46.60" fill="#6e6e6e"/>
<rect x="104.41" y="497.10" width="4.8" height="38.80" fill="#6e6e6e"/>
<rect x="111.53" y="488.80" width="4.8" height="47.10" fill="#6e6e6e"/>
<rect x="118.65" y="500.00" width="4.8" height="35.90" fill="#6e6e6e"/>
<rect x="125.77" y="501.00" width="4.8" height="34.90" fill="#6e6e6e"/>
<rect x="132.89" y="503.40" width="4.8" height="32.50" fill="#6e6e6e"/>
<rect x="140.02" y="493.70" width="4.8" height="42.20" fill="#6e6e6e"/>
<rect x="147.14" y="493.90" width="4.8" height="42.00" fill="#6e6e6e"/>
<rect x="154.26" y="498.00" width="4.8" height="37.90" fill="#6e6e6e"/>
<rect x="161.38" y="504.40" width="4.8" height="31.50" fill="#6e6e6e"/>
<rect x="168.50" y="519.00" width="4.8" height="16.90" fill="#6e6e6e"/>
<rect x="175.62" y="502.90" width="4.8" height="33.00" fill="#6e6e6e"/>
<rect x="182.74" y="507.80" width="4.8" height="28.10" fill="#6e6e6e"/>
<rect x="189.86" y="494.60" width="4.8" height="41.30" fill="#6e6e6e"/>
<rect x="196.98" y="504.10" width="4.8" height="31.80" fill="#6e6e6e"/>
<rect x="204.10" y="510.70" width="4.8" height="25.20" fill="#6e6e6e"/>
<rect x="211.22" y="505.60" width="4.8" height="30.30" fill="#6e6e6e"/>
<rect x="218.35" y="508.50" width="4.8" height="27.40" fill="#6e6e6e"/>
<rect x="225.47" y="513.40" width="4.8" height="22.50" fill="#6e6e6e"/>
<rect x="232.59" y="507.80" width="4.8" height="28.10" fill="#6e6e6e"/>
<rect x="239.71" y="496.60" width="4.8" height="39.30" fill="#6e6e6e"/>
<rect x="246.83" y="508.80" width="4.8" height="27.10" fill="#6e6e6e"/>
<rect x="253.95" y="509.80" width="4.8" height="26.10" fill="#6e6e6e"/>
<rect x="261.07" y="517.60" width="4.8" height="18.30" fill="#6e6e6e"/>
<rect x="268.19" y="513.20" width="4.8" height="22.70" fill="#6e6e6e"/>
<rect x="275.31" y="510.00" width="4.8" height="25.90" fill="#6e6e6e"/>
<rect x="282.44" y="502.20" width="4.8" height="33.70" fill="#6e6e6e"/>
<rect x="289.56" y="506.80" width="4.8" height="29.10" fill="#6e6e6e"/>
<rect x="296.68" y="513.70" width="4.8" height="22.20" fill="#6e6e6e"/>
<rect x="303.80" y="519.00" width="4.8" height="16.90" fill="#6e6e6e"/>
<rect x="310.92" y="514.10" width="4.8" height="21.80" fill="#6e6e6e"/>
<rect x="318.04" y="515.10" width="4.8" height="20.80" fill="#6e6e6e"/>
<rect x="325.16" y="514.60" width="4.8" height="21.30" fill="#6e6e6e"/>
<rect x="332.28" y="505.90" width="4.8" height="30.00" fill="#6e6e6e"/>
<rect x="339.40" y="515.10" width="4.8" height="20.80" fill="#6e6e6e"/>
<rect x="346.52" y="514.60" width="4.8" height="21.30" fill="#6e6e6e"/>
<rect x="353.65" y="515.10" width="4.8" height="20.80" fill="#6e6e6e"/>
<rect x="360.77" y="512.20" width="4.8" height="23.70" fill="#6e6e6e"/>
<rect x="367.89" y="507.10" width="4.8" height="28.80" fill="#6e6e6e"/>
<rect x="375.01" y="508.50" width="4.8" height="27.40" fill="#6e6e6e"/>
<rect x="382.13" y="518.80" width="4.8" height="17.10" fill="#6e6e6e"/>
<rect x="389.25" y="512.70" width="4.8" height="23.20" fill="#6e6e6e"/>
<rect x="396.37" y="521.70" width="4.8" height="14.20" fill="#6e6e6e"/>
<rect x="403.49" y="515.10" width="4.8" height="20.80" fill="#6e6e6e"/>
<rect x="410.61" y="510.20" width="4.8" height="25.70" fill="#6e6e6e"/>
<rect x="417.73" y="517.10" width="4.8" height="18.80" fill="#6e6e6e"/>
<rect x="424.86" y="511.00" width="4.8" height="24.90" fill="#6e6e6e"/>
<rect x="431.98" y="508.50" width="4.8" height="27.40" fill="#6e6e6e"/>
<rect x="439.10" y="514.40" width="4.8" height="21.50" fill="#6e6e6e"/>
<rect x="446.22" y="515.60" width="4.8" height="20.30" fill="#6e6e6e"/>
<rect x="453.34" y="513.90" width="4.8" height="22.00" fill="#6e6e6e"/>
<rect x="460.46" y="510.70" width="4.8" height="25.20" fill="#6e6e6e"/>
<rect x="467.58" y="502.90" width="4.8" height="33.00" fill="#6e6e6e"/>
<rect x="474.70" y="511.50" width="4.8" height="24.40" fill="#6e6e6e"/>
<rect x="481.82" y="512.20" width="4.8" height="23.70" fill="#6e6e6e"/>
<rect x="488.94" y="514.40" width="4.8" height="21.50" fill="#6e6e6e"/>
<rect x="496.07" y="515.90" width="4.8" height="20.00" fill="#6e6e6e"/>
<rect x="503.19" y="512.00" width="4.8" height="23.90" fill="#6e6e6e"/>
<rect x="510.31" y="512.20" width="4.8" height="23.70" fill="#6e6e6e"/>
<rect x="517.43" y="510.20" width="4.8" height="25.70" fill="#6e6e6e"/>
<rect x="524.55" y="511.00" width="4.8" height="24.90" fill="#6e6e6e"/>
<rect x="531.67" y="513.90" width="4.8" height="22.00" fill="#6e6e6e"/>
<rect x="538.79" y="523.90" width="4.8" height="12.00" fill="#6e6e6e"/>
<rect x="545.91" y="517.80" width="4.8" height="18.10" fill="#6e6e6e"/>
<rect x="553.03" y="515.10" width="4.8" height="20.80" fill="#6e6e6e"/>
<rect x="560.15" y="504.90" width="4.8" height="31.00" fill="#6e6e6e"/>
<rect x="567.28" y="516.80" width="4.8" height="19.10" fill="#6e6e6e"/>
<rect x="574.40" y="522.90" width="4.8" height="13.00" fill="#6e6e6e"/>
<rect x="581.52" y="513.20" width="4.8" height="22.70" fill="#6e6e6e"/>
<rect x="588.64" y="516.30" width="4.8" height="19.60" fill="#6e6e6e"/>
<rect x="595.76" y="514.60" width="4.8" height="21.30" fill="#6e6e6e"/>
<rect x="602.88" y="514.60" width="4.8" height="21.30" fill="#6e6e6e"/>
<rect x="610.00" y="509.00" width="4.8" height="26.90" fill="#6e6e6e"/>
<rect x="617.12" y="514.90" width="4.8" height="21.00" fill="#6e6e6e"/>
<rect x="624.24" y="513.70" width="4.8" height="22.20" fill="#6e6e6e"/>
<rect x="631.36" y="519.80" width="4.8" height="16.10" fill="#6e6e6e"/>
<rect x="638.49" y="506.80" width="4.8" height="29.10" fill="#6e6e6e"/>
<rect x="645.61" y="503.90" width="4.8" height="32.00" fill="#6e6e6e"/>
<rect x="652.73" y="505.90" width="4.8" height="30.00" fill="#6e6e6e"/>
<rect x="659.85" y="506.10" width="4.8" height="29.80" fill="#6e6e6e"/>
<rect x="666.97" y="516.30" width="4.8" height="19.60" fill="#6e6e6e"/>
<rect x="674.09" y="516.10" width="4.8" height="19.80" fill="#6e6e6e"/>
<rect x="681.21" y="509.50" width="4.8" height="26.40" fill="#6e6e6e"/>
<rect x="688.33" y="510.50" width="4.8" height="25.40" fill="#6e6e6e"/>
<rect x="695.45" y="515.90" width="4.8" height="20.00" fill="#6e6e6e"/>
<rect x="702.57" y="499.50" width="4.8" height="36.40" fill="#6e6e6e"/>
<rect x="709.70" y="511.20" width="4.8" height="24.70" fill="#6e6e6e"/>
<rect x="716.82" y="512.00" width="4.8" height="23.90" fill="#6e6e6e"/>
<rect x="723.94" y="518.80" width="4.8" height="17.10" fill="#6e6e6e"/>
<rect x="731.06" y="517.10" width="4.8" height="18.80" fill="#6e6e6e"/>
<rect x="738.18" y="515.90" width="4.8" height="20.00" fill="#6e6e6e"/>
<rect x="745.30" y="483.90" width="4.8" height="52.00" fill="#6e6e6e"/>
<rect x="752.42" y="494.40" width="4.8" height="41.50" fill="#6e6e6e"/>
<rect x="759.54" y="508.30" width="4.8" height="27.60" fill="#6e6e6e"/>
<rect x="766.66" y="518.00" width="4.8" height="17.90" fill="#6e6e6e"/>
<rect x="773.78" y="512.20" width="4.8" height="23.70" fill="#6e6e6e"/>
<rect x="780.91" y="512.90" width="4.8" height="23.00" fill="#6e6e6e"/>
<rect x="788.03" y="531.00" width="4.8" height="4.90" fill="#6e6e6e"/>
</g>
<text x="729.8" y="118.6" class="ax" text-anchor="end" fill="#7a7a7a">237.230</text>
<circle cx="732.4" cy="115.4" r="1.3" fill="#6b6b6b"/><line x1="732.4" y1="115.4" x2="783.3" y2="115.4" stroke="#6b6b6b" stroke-width="1"/>
<line x1="213.6" y1="433.4" x2="264.3" y2="433.4" stroke="#6b6b6b" stroke-width="1"/><circle cx="264.3" cy="433.4" r="1.3" fill="#6b6b6b"/>
 <text x="267.9" y="436.7" class="ax" fill="#7a7a7a">124.170</text></g></g>
<text x="413" y="609" class="cap" text-anchor="middle">正常</text>
<text x="1226" y="609" class="cap" text-anchor="middle">红色盲，可能会混淆红色和绿色的蜡烛图</text>
<text x="413" y="1254" class="cap" text-anchor="middle">绿色盲，可能会混淆红色和绿色的蜡烛图</text>
<text x="1226" y="1254" class="cap" text-anchor="middle">全色盲，分不清红色和绿色的蜡烛图</text>
</svg></body></html>
